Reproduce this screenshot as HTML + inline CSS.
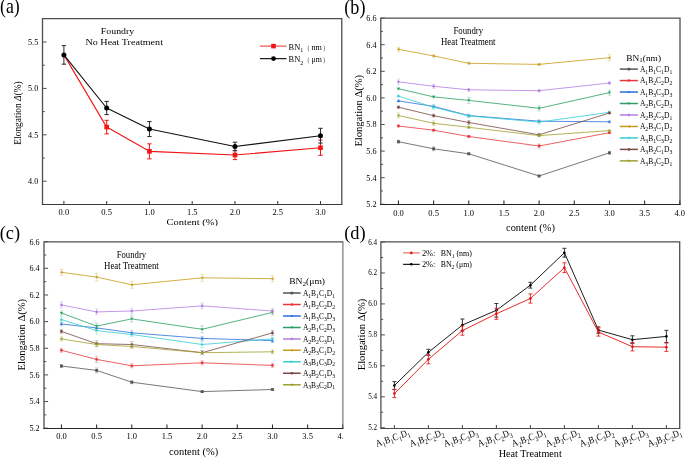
<!DOCTYPE html>
<html><head><meta charset="utf-8"><style>
html,body{margin:0;padding:0;background:#fff;}
svg{display:block;will-change:transform;}
text{font-family:"Liberation Serif", serif;}
</style></head><body>
<svg width="685" height="458" viewBox="0 0 685 458" font-family='"Liberation Serif", serif'>
<defs><clipPath id="clipA"><rect x="0" y="0" width="343.5" height="226"/></clipPath><clipPath id="clipB"><rect x="343.5" y="0" width="342" height="236"/></clipPath><clipPath id="clipC"><rect x="0" y="226" width="343.5" height="232"/></clipPath><clipPath id="clipD"><rect x="343.5" y="226" width="342" height="232"/></clipPath></defs>
<rect width="685" height="458" fill="#fff"/>
<g clip-path="url(#clipA)">
<line x1="63.9" y1="204.5" x2="63.9" y2="200.9" stroke="#3a3a3a" stroke-width="1.05" />
<text transform="translate(63.9,214.8)" font-size="8.2" text-anchor="middle" fill="#000" color="#000" textLength="10.6" lengthAdjust="spacingAndGlyphs" >0.0</text>
<line x1="106.66" y1="204.5" x2="106.66" y2="200.9" stroke="#3a3a3a" stroke-width="1.05" />
<text transform="translate(106.66,214.8)" font-size="8.2" text-anchor="middle" fill="#000" color="#000" textLength="10.6" lengthAdjust="spacingAndGlyphs" >0.5</text>
<line x1="149.43" y1="204.5" x2="149.43" y2="200.9" stroke="#3a3a3a" stroke-width="1.05" />
<text transform="translate(149.43,214.8)" font-size="8.2" text-anchor="middle" fill="#000" color="#000" textLength="10.6" lengthAdjust="spacingAndGlyphs" >1.0</text>
<line x1="192.2" y1="204.5" x2="192.2" y2="200.9" stroke="#3a3a3a" stroke-width="1.05" />
<text transform="translate(192.2,214.8)" font-size="8.2" text-anchor="middle" fill="#000" color="#000" textLength="10.6" lengthAdjust="spacingAndGlyphs" >1.5</text>
<line x1="234.96" y1="204.5" x2="234.96" y2="200.9" stroke="#3a3a3a" stroke-width="1.05" />
<text transform="translate(234.96,214.8)" font-size="8.2" text-anchor="middle" fill="#000" color="#000" textLength="10.6" lengthAdjust="spacingAndGlyphs" >2.0</text>
<line x1="277.72" y1="204.5" x2="277.72" y2="200.9" stroke="#3a3a3a" stroke-width="1.05" />
<text transform="translate(277.72,214.8)" font-size="8.2" text-anchor="middle" fill="#000" color="#000" textLength="10.6" lengthAdjust="spacingAndGlyphs" >2.5</text>
<line x1="320.49" y1="204.5" x2="320.49" y2="200.9" stroke="#3a3a3a" stroke-width="1.05" />
<text transform="translate(320.49,214.8)" font-size="8.2" text-anchor="middle" fill="#000" color="#000" textLength="10.6" lengthAdjust="spacingAndGlyphs" >3.0</text>
<line x1="42.6" y1="181.2" x2="46.6" y2="181.2" stroke="#4e4e4e" stroke-width="1" />
<text transform="translate(38.2,184)" font-size="8.2" text-anchor="end" fill="#000" color="#000" textLength="10.2" lengthAdjust="spacingAndGlyphs" >4.0</text>
<line x1="42.6" y1="134.8" x2="46.6" y2="134.8" stroke="#4e4e4e" stroke-width="1" />
<text transform="translate(38.2,137.6)" font-size="8.2" text-anchor="end" fill="#000" color="#000" textLength="10.2" lengthAdjust="spacingAndGlyphs" >4.5</text>
<line x1="42.6" y1="88.4" x2="46.6" y2="88.4" stroke="#4e4e4e" stroke-width="1" />
<text transform="translate(38.2,91.2)" font-size="8.2" text-anchor="end" fill="#000" color="#000" textLength="10.2" lengthAdjust="spacingAndGlyphs" >5.0</text>
<line x1="42.6" y1="42" x2="46.6" y2="42" stroke="#4e4e4e" stroke-width="1" />
<text transform="translate(38.2,44.8)" font-size="8.2" text-anchor="end" fill="#000" color="#000" textLength="10.2" lengthAdjust="spacingAndGlyphs" >5.5</text>
<line x1="42.6" y1="204.4" x2="44.8" y2="204.4" stroke="#4e4e4e" stroke-width="1" />
<line x1="42.6" y1="158" x2="44.8" y2="158" stroke="#4e4e4e" stroke-width="1" />
<line x1="42.6" y1="111.6" x2="44.8" y2="111.6" stroke="#4e4e4e" stroke-width="1" />
<line x1="42.6" y1="65.2" x2="44.8" y2="65.2" stroke="#4e4e4e" stroke-width="1" />
<path d="M42.5,204.2 V18.6 H341.8 V204.2" fill="none" stroke="#4e4e4e" stroke-width="1.3" stroke-linecap="square"/>
<line x1="41.9" y1="204.5" x2="342.4" y2="204.5" stroke="#3a3a3a" stroke-width="1.1"/>
<line x1="106.66" y1="120.3" x2="106.66" y2="133.9" stroke="#f21414" stroke-width="1.0" />
<line x1="104.46" y1="120.3" x2="108.86" y2="120.3" stroke="#f21414" stroke-width="1.0" />
<line x1="104.46" y1="133.9" x2="108.86" y2="133.9" stroke="#f21414" stroke-width="1.0" />
<line x1="149.43" y1="143.85" x2="149.43" y2="158.85" stroke="#f21414" stroke-width="1.0" />
<line x1="147.23" y1="143.85" x2="151.63" y2="143.85" stroke="#f21414" stroke-width="1.0" />
<line x1="147.23" y1="158.85" x2="151.63" y2="158.85" stroke="#f21414" stroke-width="1.0" />
<line x1="234.96" y1="150.4" x2="234.96" y2="159.6" stroke="#f21414" stroke-width="1.0" />
<line x1="232.76" y1="150.4" x2="237.16" y2="150.4" stroke="#f21414" stroke-width="1.0" />
<line x1="232.76" y1="159.6" x2="237.16" y2="159.6" stroke="#f21414" stroke-width="1.0" />
<line x1="320.49" y1="140.1" x2="320.49" y2="155.3" stroke="#f21414" stroke-width="1.0" />
<line x1="318.29" y1="140.1" x2="322.69" y2="140.1" stroke="#f21414" stroke-width="1.0" />
<line x1="318.29" y1="155.3" x2="322.69" y2="155.3" stroke="#f21414" stroke-width="1.0" />
<polyline points="63.9,54.9 106.66,127.1 149.43,151.35 234.96,155 320.49,147.7" fill="none" stroke="#f21414" stroke-width="1.1" stroke-linejoin="round" />
<rect x="104.36" y="124.8" width="4.6" height="4.6" fill="#f21414"/>
<rect x="147.13" y="149.05" width="4.6" height="4.6" fill="#f21414"/>
<rect x="232.66" y="152.7" width="4.6" height="4.6" fill="#f21414"/>
<rect x="318.19" y="145.4" width="4.6" height="4.6" fill="#f21414"/>
<line x1="63.9" y1="45.6" x2="63.9" y2="64.2" stroke="#2a2a2a" stroke-width="1.0" />
<line x1="61.7" y1="45.6" x2="66.1" y2="45.6" stroke="#2a2a2a" stroke-width="1.0" />
<line x1="61.7" y1="64.2" x2="66.1" y2="64.2" stroke="#2a2a2a" stroke-width="1.0" />
<line x1="106.66" y1="101.4" x2="106.66" y2="114.6" stroke="#2a2a2a" stroke-width="1.0" />
<line x1="104.46" y1="101.4" x2="108.86" y2="101.4" stroke="#2a2a2a" stroke-width="1.0" />
<line x1="104.46" y1="114.6" x2="108.86" y2="114.6" stroke="#2a2a2a" stroke-width="1.0" />
<line x1="149.43" y1="121.55" x2="149.43" y2="136.55" stroke="#2a2a2a" stroke-width="1.0" />
<line x1="147.23" y1="121.55" x2="151.63" y2="121.55" stroke="#2a2a2a" stroke-width="1.0" />
<line x1="147.23" y1="136.55" x2="151.63" y2="136.55" stroke="#2a2a2a" stroke-width="1.0" />
<line x1="234.96" y1="142.2" x2="234.96" y2="150.8" stroke="#2a2a2a" stroke-width="1.0" />
<line x1="232.76" y1="142.2" x2="237.16" y2="142.2" stroke="#2a2a2a" stroke-width="1.0" />
<line x1="232.76" y1="150.8" x2="237.16" y2="150.8" stroke="#2a2a2a" stroke-width="1.0" />
<line x1="320.49" y1="128.3" x2="320.49" y2="143.1" stroke="#2a2a2a" stroke-width="1.0" />
<line x1="318.29" y1="128.3" x2="322.69" y2="128.3" stroke="#2a2a2a" stroke-width="1.0" />
<line x1="318.29" y1="143.1" x2="322.69" y2="143.1" stroke="#2a2a2a" stroke-width="1.0" />
<polyline points="63.9,54.9 106.66,108 149.43,129.05 234.96,146.5 320.49,135.7" fill="none" stroke="#111" stroke-width="1.1" stroke-linejoin="round" />
<circle cx="63.9" cy="54.9" r="2.5" fill="#000"/>
<circle cx="106.66" cy="108" r="2.5" fill="#000"/>
<circle cx="149.43" cy="129.05" r="2.5" fill="#000"/>
<circle cx="234.96" cy="146.5" r="2.5" fill="#000"/>
<circle cx="320.49" cy="135.7" r="2.5" fill="#000"/>
<line x1="259.9" y1="46.1" x2="286.5" y2="46.1" stroke="#f05a5a" stroke-width="1.3" />
<rect x="271.2" y="43.8" width="4.6" height="4.6" fill="#f21414"/>
<line x1="259.9" y1="58.6" x2="286.5" y2="58.6" stroke="#222" stroke-width="1.3" />
<circle cx="273.5" cy="58.6" r="2.4" fill="#000"/>
<text transform="translate(288.6,49.9)" font-size="8.4" text-anchor="start" fill="#000" color="#000" >BN<tspan font-size="6.05" dy="2.52">1</tspan><tspan dy="-2.52">​</tspan></text>
<text transform="translate(288.6,62.4)" font-size="8.4" text-anchor="start" fill="#000" color="#000" >BN<tspan font-size="6.05" dy="2.52">2</tspan><tspan dy="-2.52">​</tspan></text>
<text transform="translate(307.4,49.5)" font-size="7" text-anchor="start" fill="#333" color="#333" textLength="1.9" lengthAdjust="spacingAndGlyphs" >(</text>
<text transform="translate(311.4,49.9)" font-size="8.2" text-anchor="start" fill="#000" color="#000" textLength="10.4" lengthAdjust="spacingAndGlyphs" >nm</text>
<text transform="translate(323.2,49.5)" font-size="7" text-anchor="start" fill="#333" color="#333" textLength="1.9" lengthAdjust="spacingAndGlyphs" >)</text>
<text transform="translate(307.4,62)" font-size="7" text-anchor="start" fill="#333" color="#333" textLength="1.9" lengthAdjust="spacingAndGlyphs" >(</text>
<text transform="translate(311.4,62.4)" font-size="8.2" text-anchor="start" fill="#000" color="#000" textLength="10.4" lengthAdjust="spacingAndGlyphs" >μm</text>
<text transform="translate(323.2,62)" font-size="7" text-anchor="start" fill="#333" color="#333" textLength="1.9" lengthAdjust="spacingAndGlyphs" >)</text>
<text transform="translate(117.5,34.2)" font-size="9.2" text-anchor="middle" fill="#000" color="#000" textLength="33.3" lengthAdjust="spacingAndGlyphs" >Foundry</text>
<text transform="translate(124.2,45.2)" font-size="9.2" text-anchor="middle" fill="#000" color="#000" textLength="77.5" lengthAdjust="spacingAndGlyphs" >No Heat Treatment</text>
<text transform="translate(192.3,225.2)" font-size="9.1" text-anchor="middle" fill="#000" color="#000" textLength="51.5" lengthAdjust="spacingAndGlyphs" >Content (%)</text>
<text transform="translate(21.2,113) rotate(-90)" font-size="9.6" text-anchor="middle" fill="#000" color="#000" textLength="63.4" lengthAdjust="spacingAndGlyphs" >Elongation <tspan font-style="italic">Δ</tspan>(%)</text>
</g>
<text transform="translate(0,13.4)" font-size="20.2" text-anchor="start" fill="#000" color="#000" textLength="19.8" lengthAdjust="spacingAndGlyphs" >(a)</text>
<g clip-path="url(#clipB)">
<line x1="398.45" y1="204.5" x2="398.45" y2="200.4" stroke="#222" stroke-width="1.05" />
<text transform="translate(398.45,216)" font-size="8.2" text-anchor="middle" fill="#000" color="#000" textLength="10.6" lengthAdjust="spacingAndGlyphs" >0.0</text>
<line x1="433.62" y1="204.5" x2="433.62" y2="200.4" stroke="#222" stroke-width="1.05" />
<text transform="translate(433.62,216)" font-size="8.2" text-anchor="middle" fill="#000" color="#000" textLength="10.6" lengthAdjust="spacingAndGlyphs" >0.5</text>
<line x1="468.78" y1="204.5" x2="468.78" y2="200.4" stroke="#222" stroke-width="1.05" />
<text transform="translate(468.78,216)" font-size="8.2" text-anchor="middle" fill="#000" color="#000" textLength="10.6" lengthAdjust="spacingAndGlyphs" >1.0</text>
<line x1="503.94" y1="204.5" x2="503.94" y2="200.4" stroke="#222" stroke-width="1.05" />
<text transform="translate(503.94,216)" font-size="8.2" text-anchor="middle" fill="#000" color="#000" textLength="10.6" lengthAdjust="spacingAndGlyphs" >1.5</text>
<line x1="539.11" y1="204.5" x2="539.11" y2="200.4" stroke="#222" stroke-width="1.05" />
<text transform="translate(539.11,216)" font-size="8.2" text-anchor="middle" fill="#000" color="#000" textLength="10.6" lengthAdjust="spacingAndGlyphs" >2.0</text>
<line x1="574.27" y1="204.5" x2="574.27" y2="200.4" stroke="#222" stroke-width="1.05" />
<text transform="translate(574.27,216)" font-size="8.2" text-anchor="middle" fill="#000" color="#000" textLength="10.6" lengthAdjust="spacingAndGlyphs" >2.5</text>
<line x1="609.44" y1="204.5" x2="609.44" y2="200.4" stroke="#222" stroke-width="1.05" />
<text transform="translate(609.44,216)" font-size="8.2" text-anchor="middle" fill="#000" color="#000" textLength="10.6" lengthAdjust="spacingAndGlyphs" >3.0</text>
<line x1="644.61" y1="204.5" x2="644.61" y2="200.4" stroke="#222" stroke-width="1.05" />
<text transform="translate(644.61,216)" font-size="8.2" text-anchor="middle" fill="#000" color="#000" textLength="10.6" lengthAdjust="spacingAndGlyphs" >3.5</text>
<line x1="679.77" y1="204.5" x2="679.77" y2="200.4" stroke="#222" stroke-width="1.05" />
<text transform="translate(679.77,216)" font-size="8.2" text-anchor="middle" fill="#000" color="#000" textLength="10.6" lengthAdjust="spacingAndGlyphs" >4.0</text>
<line x1="380.7" y1="204.3" x2="384.7" y2="204.3" stroke="#4e4e4e" stroke-width="1" />
<text transform="translate(376.5,207.1)" font-size="8.2" text-anchor="end" fill="#000" color="#000" textLength="10.2" lengthAdjust="spacingAndGlyphs" >5.2</text>
<line x1="380.7" y1="177.7" x2="384.7" y2="177.7" stroke="#4e4e4e" stroke-width="1" />
<text transform="translate(376.5,180.5)" font-size="8.2" text-anchor="end" fill="#000" color="#000" textLength="10.2" lengthAdjust="spacingAndGlyphs" >5.4</text>
<line x1="380.7" y1="151.1" x2="384.7" y2="151.1" stroke="#4e4e4e" stroke-width="1" />
<text transform="translate(376.5,153.9)" font-size="8.2" text-anchor="end" fill="#000" color="#000" textLength="10.2" lengthAdjust="spacingAndGlyphs" >5.6</text>
<line x1="380.7" y1="124.5" x2="384.7" y2="124.5" stroke="#4e4e4e" stroke-width="1" />
<text transform="translate(376.5,127.3)" font-size="8.2" text-anchor="end" fill="#000" color="#000" textLength="10.2" lengthAdjust="spacingAndGlyphs" >5.8</text>
<line x1="380.7" y1="97.9" x2="384.7" y2="97.9" stroke="#4e4e4e" stroke-width="1" />
<text transform="translate(376.5,100.7)" font-size="8.2" text-anchor="end" fill="#000" color="#000" textLength="10.2" lengthAdjust="spacingAndGlyphs" >6.0</text>
<line x1="380.7" y1="71.3" x2="384.7" y2="71.3" stroke="#4e4e4e" stroke-width="1" />
<text transform="translate(376.5,74.1)" font-size="8.2" text-anchor="end" fill="#000" color="#000" textLength="10.2" lengthAdjust="spacingAndGlyphs" >6.2</text>
<line x1="380.7" y1="44.7" x2="384.7" y2="44.7" stroke="#4e4e4e" stroke-width="1" />
<text transform="translate(376.5,47.5)" font-size="8.2" text-anchor="end" fill="#000" color="#000" textLength="10.2" lengthAdjust="spacingAndGlyphs" >6.4</text>
<line x1="380.7" y1="18.1" x2="384.7" y2="18.1" stroke="#4e4e4e" stroke-width="1" />
<text transform="translate(376.5,20.9)" font-size="8.2" text-anchor="end" fill="#000" color="#000" textLength="10.2" lengthAdjust="spacingAndGlyphs" >6.6</text>
<line x1="380.7" y1="191" x2="382.9" y2="191" stroke="#4e4e4e" stroke-width="1" />
<line x1="380.7" y1="164.4" x2="382.9" y2="164.4" stroke="#4e4e4e" stroke-width="1" />
<line x1="380.7" y1="137.8" x2="382.9" y2="137.8" stroke="#4e4e4e" stroke-width="1" />
<line x1="380.7" y1="111.2" x2="382.9" y2="111.2" stroke="#4e4e4e" stroke-width="1" />
<line x1="380.7" y1="84.6" x2="382.9" y2="84.6" stroke="#4e4e4e" stroke-width="1" />
<line x1="380.7" y1="58" x2="382.9" y2="58" stroke="#4e4e4e" stroke-width="1" />
<line x1="380.7" y1="31.4" x2="382.9" y2="31.4" stroke="#4e4e4e" stroke-width="1" />
<path d="M380.8,204.2 V18.1 H680 V204.2" fill="none" stroke="#4e4e4e" stroke-width="1.3" stroke-linecap="square"/>
<line x1="380.2" y1="204.5" x2="680.6" y2="204.5" stroke="#222" stroke-width="1.1"/>
<line x1="398.45" y1="140.2" x2="398.45" y2="143.2" stroke="#555555" stroke-width="0.5" stroke-opacity="0.6"/>
<line x1="396.65" y1="140.2" x2="400.25" y2="140.2" stroke="#555555" stroke-width="0.5" stroke-opacity="0.6"/>
<line x1="396.65" y1="143.2" x2="400.25" y2="143.2" stroke="#555555" stroke-width="0.5" stroke-opacity="0.6"/>
<line x1="433.62" y1="146.8" x2="433.62" y2="150.8" stroke="#555555" stroke-width="0.5" stroke-opacity="0.6"/>
<line x1="431.81" y1="146.8" x2="435.42" y2="146.8" stroke="#555555" stroke-width="0.5" stroke-opacity="0.6"/>
<line x1="431.81" y1="150.8" x2="435.42" y2="150.8" stroke="#555555" stroke-width="0.5" stroke-opacity="0.6"/>
<line x1="468.78" y1="152.8" x2="468.78" y2="154.8" stroke="#555555" stroke-width="0.5" stroke-opacity="0.6"/>
<line x1="466.98" y1="152.8" x2="470.58" y2="152.8" stroke="#555555" stroke-width="0.5" stroke-opacity="0.6"/>
<line x1="466.98" y1="154.8" x2="470.58" y2="154.8" stroke="#555555" stroke-width="0.5" stroke-opacity="0.6"/>
<line x1="539.11" y1="175" x2="539.11" y2="177" stroke="#555555" stroke-width="0.5" stroke-opacity="0.6"/>
<line x1="537.31" y1="175" x2="540.91" y2="175" stroke="#555555" stroke-width="0.5" stroke-opacity="0.6"/>
<line x1="537.31" y1="177" x2="540.91" y2="177" stroke="#555555" stroke-width="0.5" stroke-opacity="0.6"/>
<line x1="609.44" y1="151.3" x2="609.44" y2="154.3" stroke="#555555" stroke-width="0.5" stroke-opacity="0.6"/>
<line x1="607.64" y1="151.3" x2="611.24" y2="151.3" stroke="#555555" stroke-width="0.5" stroke-opacity="0.6"/>
<line x1="607.64" y1="154.3" x2="611.24" y2="154.3" stroke="#555555" stroke-width="0.5" stroke-opacity="0.6"/>
<polyline points="398.45,141.7 433.62,148.8 468.78,153.8 539.11,176 609.44,152.8" fill="none" stroke="#555555" stroke-width="0.8" stroke-linejoin="round" />
<rect x="397.05" y="140.3" width="2.8" height="2.8" fill="#555555"/>
<rect x="432.22" y="147.4" width="2.8" height="2.8" fill="#555555"/>
<rect x="467.38" y="152.4" width="2.8" height="2.8" fill="#555555"/>
<rect x="537.71" y="174.6" width="2.8" height="2.8" fill="#555555"/>
<rect x="608.04" y="151.4" width="2.8" height="2.8" fill="#555555"/>
<line x1="398.45" y1="125" x2="398.45" y2="127" stroke="#e8363a" stroke-width="0.5" stroke-opacity="0.6"/>
<line x1="396.65" y1="125" x2="400.25" y2="125" stroke="#e8363a" stroke-width="0.5" stroke-opacity="0.6"/>
<line x1="396.65" y1="127" x2="400.25" y2="127" stroke="#e8363a" stroke-width="0.5" stroke-opacity="0.6"/>
<line x1="433.62" y1="129.2" x2="433.62" y2="131.2" stroke="#e8363a" stroke-width="0.5" stroke-opacity="0.6"/>
<line x1="431.81" y1="129.2" x2="435.42" y2="129.2" stroke="#e8363a" stroke-width="0.5" stroke-opacity="0.6"/>
<line x1="431.81" y1="131.2" x2="435.42" y2="131.2" stroke="#e8363a" stroke-width="0.5" stroke-opacity="0.6"/>
<line x1="468.78" y1="135.5" x2="468.78" y2="137.5" stroke="#e8363a" stroke-width="0.5" stroke-opacity="0.6"/>
<line x1="466.98" y1="135.5" x2="470.58" y2="135.5" stroke="#e8363a" stroke-width="0.5" stroke-opacity="0.6"/>
<line x1="466.98" y1="137.5" x2="470.58" y2="137.5" stroke="#e8363a" stroke-width="0.5" stroke-opacity="0.6"/>
<line x1="539.11" y1="144" x2="539.11" y2="148" stroke="#e8363a" stroke-width="0.5" stroke-opacity="0.6"/>
<line x1="537.31" y1="144" x2="540.91" y2="144" stroke="#e8363a" stroke-width="0.5" stroke-opacity="0.6"/>
<line x1="537.31" y1="148" x2="540.91" y2="148" stroke="#e8363a" stroke-width="0.5" stroke-opacity="0.6"/>
<line x1="609.44" y1="131.7" x2="609.44" y2="133.7" stroke="#e8363a" stroke-width="0.5" stroke-opacity="0.6"/>
<line x1="607.64" y1="131.7" x2="611.24" y2="131.7" stroke="#e8363a" stroke-width="0.5" stroke-opacity="0.6"/>
<line x1="607.64" y1="133.7" x2="611.24" y2="133.7" stroke="#e8363a" stroke-width="0.5" stroke-opacity="0.6"/>
<polyline points="398.45,126 433.62,130.2 468.78,136.5 539.11,146 609.44,132.7" fill="none" stroke="#e8363a" stroke-width="0.8" stroke-linejoin="round" />
<circle cx="398.45" cy="126" r="1.4" fill="#e8363a"/>
<circle cx="433.62" cy="130.2" r="1.4" fill="#e8363a"/>
<circle cx="468.78" cy="136.5" r="1.4" fill="#e8363a"/>
<circle cx="539.11" cy="146" r="1.4" fill="#e8363a"/>
<circle cx="609.44" cy="132.7" r="1.4" fill="#e8363a"/>
<line x1="398.45" y1="99.9" x2="398.45" y2="101.9" stroke="#2a6fd8" stroke-width="0.5" stroke-opacity="0.6"/>
<line x1="396.65" y1="99.9" x2="400.25" y2="99.9" stroke="#2a6fd8" stroke-width="0.5" stroke-opacity="0.6"/>
<line x1="396.65" y1="101.9" x2="400.25" y2="101.9" stroke="#2a6fd8" stroke-width="0.5" stroke-opacity="0.6"/>
<line x1="433.62" y1="104.9" x2="433.62" y2="107.9" stroke="#2a6fd8" stroke-width="0.5" stroke-opacity="0.6"/>
<line x1="431.81" y1="104.9" x2="435.42" y2="104.9" stroke="#2a6fd8" stroke-width="0.5" stroke-opacity="0.6"/>
<line x1="431.81" y1="107.9" x2="435.42" y2="107.9" stroke="#2a6fd8" stroke-width="0.5" stroke-opacity="0.6"/>
<line x1="468.78" y1="114.1" x2="468.78" y2="117.1" stroke="#2a6fd8" stroke-width="0.5" stroke-opacity="0.6"/>
<line x1="466.98" y1="114.1" x2="470.58" y2="114.1" stroke="#2a6fd8" stroke-width="0.5" stroke-opacity="0.6"/>
<line x1="466.98" y1="117.1" x2="470.58" y2="117.1" stroke="#2a6fd8" stroke-width="0.5" stroke-opacity="0.6"/>
<line x1="539.11" y1="120.2" x2="539.11" y2="122.2" stroke="#2a6fd8" stroke-width="0.5" stroke-opacity="0.6"/>
<line x1="537.31" y1="120.2" x2="540.91" y2="120.2" stroke="#2a6fd8" stroke-width="0.5" stroke-opacity="0.6"/>
<line x1="537.31" y1="122.2" x2="540.91" y2="122.2" stroke="#2a6fd8" stroke-width="0.5" stroke-opacity="0.6"/>
<line x1="609.44" y1="120.8" x2="609.44" y2="122.8" stroke="#2a6fd8" stroke-width="0.5" stroke-opacity="0.6"/>
<line x1="607.64" y1="120.8" x2="611.24" y2="120.8" stroke="#2a6fd8" stroke-width="0.5" stroke-opacity="0.6"/>
<line x1="607.64" y1="122.8" x2="611.24" y2="122.8" stroke="#2a6fd8" stroke-width="0.5" stroke-opacity="0.6"/>
<polyline points="398.45,100.9 433.62,106.4 468.78,115.6 539.11,121.2 609.44,121.8" fill="none" stroke="#2a6fd8" stroke-width="0.8" stroke-linejoin="round" />
<polygon points="398.45,99.29 399.99,101.95 396.91,101.95" fill="#2a6fd8"/>
<polygon points="433.62,104.79 435.16,107.45 432.07,107.45" fill="#2a6fd8"/>
<polygon points="468.78,113.99 470.32,116.65 467.24,116.65" fill="#2a6fd8"/>
<polygon points="539.11,119.59 540.65,122.25 537.57,122.25" fill="#2a6fd8"/>
<polygon points="609.44,120.19 610.98,122.85 607.9,122.85" fill="#2a6fd8"/>
<line x1="398.45" y1="87.7" x2="398.45" y2="89.7" stroke="#2aa060" stroke-width="0.5" stroke-opacity="0.6"/>
<line x1="396.65" y1="87.7" x2="400.25" y2="87.7" stroke="#2aa060" stroke-width="0.5" stroke-opacity="0.6"/>
<line x1="396.65" y1="89.7" x2="400.25" y2="89.7" stroke="#2aa060" stroke-width="0.5" stroke-opacity="0.6"/>
<line x1="433.62" y1="95.9" x2="433.62" y2="97.9" stroke="#2aa060" stroke-width="0.5" stroke-opacity="0.6"/>
<line x1="431.81" y1="95.9" x2="435.42" y2="95.9" stroke="#2aa060" stroke-width="0.5" stroke-opacity="0.6"/>
<line x1="431.81" y1="97.9" x2="435.42" y2="97.9" stroke="#2aa060" stroke-width="0.5" stroke-opacity="0.6"/>
<line x1="468.78" y1="97.4" x2="468.78" y2="103.4" stroke="#2aa060" stroke-width="0.5" stroke-opacity="0.6"/>
<line x1="466.98" y1="97.4" x2="470.58" y2="97.4" stroke="#2aa060" stroke-width="0.5" stroke-opacity="0.6"/>
<line x1="466.98" y1="103.4" x2="470.58" y2="103.4" stroke="#2aa060" stroke-width="0.5" stroke-opacity="0.6"/>
<line x1="539.11" y1="105.8" x2="539.11" y2="110.8" stroke="#2aa060" stroke-width="0.5" stroke-opacity="0.6"/>
<line x1="537.31" y1="105.8" x2="540.91" y2="105.8" stroke="#2aa060" stroke-width="0.5" stroke-opacity="0.6"/>
<line x1="537.31" y1="110.8" x2="540.91" y2="110.8" stroke="#2aa060" stroke-width="0.5" stroke-opacity="0.6"/>
<line x1="609.44" y1="90.1" x2="609.44" y2="95.1" stroke="#2aa060" stroke-width="0.5" stroke-opacity="0.6"/>
<line x1="607.64" y1="90.1" x2="611.24" y2="90.1" stroke="#2aa060" stroke-width="0.5" stroke-opacity="0.6"/>
<line x1="607.64" y1="95.1" x2="611.24" y2="95.1" stroke="#2aa060" stroke-width="0.5" stroke-opacity="0.6"/>
<polyline points="398.45,88.7 433.62,96.9 468.78,100.4 539.11,108.3 609.44,92.6" fill="none" stroke="#2aa060" stroke-width="0.8" stroke-linejoin="round" />
<polygon points="398.45,90.31 399.99,87.65 396.91,87.65" fill="#2aa060"/>
<polygon points="433.62,98.51 435.16,95.85 432.07,95.85" fill="#2aa060"/>
<polygon points="468.78,102.01 470.32,99.35 467.24,99.35" fill="#2aa060"/>
<polygon points="539.11,109.91 540.65,107.25 537.57,107.25" fill="#2aa060"/>
<polygon points="609.44,94.21 610.98,91.55 607.9,91.55" fill="#2aa060"/>
<line x1="398.45" y1="78.8" x2="398.45" y2="84.8" stroke="#b47ce0" stroke-width="0.5" stroke-opacity="0.6"/>
<line x1="396.65" y1="78.8" x2="400.25" y2="78.8" stroke="#b47ce0" stroke-width="0.5" stroke-opacity="0.6"/>
<line x1="396.65" y1="84.8" x2="400.25" y2="84.8" stroke="#b47ce0" stroke-width="0.5" stroke-opacity="0.6"/>
<line x1="433.62" y1="84.3" x2="433.62" y2="88.3" stroke="#b47ce0" stroke-width="0.5" stroke-opacity="0.6"/>
<line x1="431.81" y1="84.3" x2="435.42" y2="84.3" stroke="#b47ce0" stroke-width="0.5" stroke-opacity="0.6"/>
<line x1="431.81" y1="88.3" x2="435.42" y2="88.3" stroke="#b47ce0" stroke-width="0.5" stroke-opacity="0.6"/>
<line x1="468.78" y1="88.3" x2="468.78" y2="91.3" stroke="#b47ce0" stroke-width="0.5" stroke-opacity="0.6"/>
<line x1="466.98" y1="88.3" x2="470.58" y2="88.3" stroke="#b47ce0" stroke-width="0.5" stroke-opacity="0.6"/>
<line x1="466.98" y1="91.3" x2="470.58" y2="91.3" stroke="#b47ce0" stroke-width="0.5" stroke-opacity="0.6"/>
<line x1="539.11" y1="89.7" x2="539.11" y2="91.7" stroke="#b47ce0" stroke-width="0.5" stroke-opacity="0.6"/>
<line x1="537.31" y1="89.7" x2="540.91" y2="89.7" stroke="#b47ce0" stroke-width="0.5" stroke-opacity="0.6"/>
<line x1="537.31" y1="91.7" x2="540.91" y2="91.7" stroke="#b47ce0" stroke-width="0.5" stroke-opacity="0.6"/>
<line x1="609.44" y1="82" x2="609.44" y2="84" stroke="#b47ce0" stroke-width="0.5" stroke-opacity="0.6"/>
<line x1="607.64" y1="82" x2="611.24" y2="82" stroke="#b47ce0" stroke-width="0.5" stroke-opacity="0.6"/>
<line x1="607.64" y1="84" x2="611.24" y2="84" stroke="#b47ce0" stroke-width="0.5" stroke-opacity="0.6"/>
<polyline points="398.45,81.8 433.62,86.3 468.78,89.8 539.11,90.7 609.44,83" fill="none" stroke="#b47ce0" stroke-width="0.8" stroke-linejoin="round" />
<polygon points="398.45,79.98 399.99,81.8 398.45,83.62 396.91,81.8" fill="#b47ce0"/>
<polygon points="433.62,84.48 435.16,86.3 433.62,88.12 432.07,86.3" fill="#b47ce0"/>
<polygon points="468.78,87.98 470.32,89.8 468.78,91.62 467.24,89.8" fill="#b47ce0"/>
<polygon points="539.11,88.88 540.65,90.7 539.11,92.52 537.57,90.7" fill="#b47ce0"/>
<polygon points="609.44,81.18 610.98,83 609.44,84.82 607.9,83" fill="#b47ce0"/>
<line x1="398.45" y1="47.3" x2="398.45" y2="51.3" stroke="#c99a18" stroke-width="0.5" stroke-opacity="0.6"/>
<line x1="396.65" y1="47.3" x2="400.25" y2="47.3" stroke="#c99a18" stroke-width="0.5" stroke-opacity="0.6"/>
<line x1="396.65" y1="51.3" x2="400.25" y2="51.3" stroke="#c99a18" stroke-width="0.5" stroke-opacity="0.6"/>
<line x1="433.62" y1="54.9" x2="433.62" y2="56.9" stroke="#c99a18" stroke-width="0.5" stroke-opacity="0.6"/>
<line x1="431.81" y1="54.9" x2="435.42" y2="54.9" stroke="#c99a18" stroke-width="0.5" stroke-opacity="0.6"/>
<line x1="431.81" y1="56.9" x2="435.42" y2="56.9" stroke="#c99a18" stroke-width="0.5" stroke-opacity="0.6"/>
<line x1="468.78" y1="62.3" x2="468.78" y2="64.3" stroke="#c99a18" stroke-width="0.5" stroke-opacity="0.6"/>
<line x1="466.98" y1="62.3" x2="470.58" y2="62.3" stroke="#c99a18" stroke-width="0.5" stroke-opacity="0.6"/>
<line x1="466.98" y1="64.3" x2="470.58" y2="64.3" stroke="#c99a18" stroke-width="0.5" stroke-opacity="0.6"/>
<line x1="539.11" y1="63.4" x2="539.11" y2="65.4" stroke="#c99a18" stroke-width="0.5" stroke-opacity="0.6"/>
<line x1="537.31" y1="63.4" x2="540.91" y2="63.4" stroke="#c99a18" stroke-width="0.5" stroke-opacity="0.6"/>
<line x1="537.31" y1="65.4" x2="540.91" y2="65.4" stroke="#c99a18" stroke-width="0.5" stroke-opacity="0.6"/>
<line x1="609.44" y1="54.7" x2="609.44" y2="60.7" stroke="#c99a18" stroke-width="0.5" stroke-opacity="0.6"/>
<line x1="607.64" y1="54.7" x2="611.24" y2="54.7" stroke="#c99a18" stroke-width="0.5" stroke-opacity="0.6"/>
<line x1="607.64" y1="60.7" x2="611.24" y2="60.7" stroke="#c99a18" stroke-width="0.5" stroke-opacity="0.6"/>
<polyline points="398.45,49.3 433.62,55.9 468.78,63.3 539.11,64.4 609.44,57.7" fill="none" stroke="#c99a18" stroke-width="0.8" stroke-linejoin="round" />
<polygon points="396.84,49.3 399.5,47.76 399.5,50.84" fill="#c99a18"/>
<polygon points="432,55.9 434.67,54.36 434.67,57.44" fill="#c99a18"/>
<polygon points="467.17,63.3 469.83,61.76 469.83,64.84" fill="#c99a18"/>
<polygon points="537.5,64.4 540.16,62.86 540.16,65.94" fill="#c99a18"/>
<polygon points="607.83,57.7 610.49,56.16 610.49,59.24" fill="#c99a18"/>
<line x1="398.45" y1="95.1" x2="398.45" y2="97.1" stroke="#35cdd0" stroke-width="0.5" stroke-opacity="0.6"/>
<line x1="396.65" y1="95.1" x2="400.25" y2="95.1" stroke="#35cdd0" stroke-width="0.5" stroke-opacity="0.6"/>
<line x1="396.65" y1="97.1" x2="400.25" y2="97.1" stroke="#35cdd0" stroke-width="0.5" stroke-opacity="0.6"/>
<line x1="433.62" y1="105.3" x2="433.62" y2="109.3" stroke="#35cdd0" stroke-width="0.5" stroke-opacity="0.6"/>
<line x1="431.81" y1="105.3" x2="435.42" y2="105.3" stroke="#35cdd0" stroke-width="0.5" stroke-opacity="0.6"/>
<line x1="431.81" y1="109.3" x2="435.42" y2="109.3" stroke="#35cdd0" stroke-width="0.5" stroke-opacity="0.6"/>
<line x1="468.78" y1="114.9" x2="468.78" y2="116.9" stroke="#35cdd0" stroke-width="0.5" stroke-opacity="0.6"/>
<line x1="466.98" y1="114.9" x2="470.58" y2="114.9" stroke="#35cdd0" stroke-width="0.5" stroke-opacity="0.6"/>
<line x1="466.98" y1="116.9" x2="470.58" y2="116.9" stroke="#35cdd0" stroke-width="0.5" stroke-opacity="0.6"/>
<line x1="539.11" y1="120.1" x2="539.11" y2="124.1" stroke="#35cdd0" stroke-width="0.5" stroke-opacity="0.6"/>
<line x1="537.31" y1="120.1" x2="540.91" y2="120.1" stroke="#35cdd0" stroke-width="0.5" stroke-opacity="0.6"/>
<line x1="537.31" y1="124.1" x2="540.91" y2="124.1" stroke="#35cdd0" stroke-width="0.5" stroke-opacity="0.6"/>
<line x1="609.44" y1="111.3" x2="609.44" y2="113.3" stroke="#35cdd0" stroke-width="0.5" stroke-opacity="0.6"/>
<line x1="607.64" y1="111.3" x2="611.24" y2="111.3" stroke="#35cdd0" stroke-width="0.5" stroke-opacity="0.6"/>
<line x1="607.64" y1="113.3" x2="611.24" y2="113.3" stroke="#35cdd0" stroke-width="0.5" stroke-opacity="0.6"/>
<polyline points="398.45,96.1 433.62,107.3 468.78,115.9 539.11,122.1 609.44,112.3" fill="none" stroke="#35cdd0" stroke-width="0.8" stroke-linejoin="round" />
<polygon points="400.06,96.1 397.4,94.56 397.4,97.64" fill="#35cdd0"/>
<polygon points="435.23,107.3 432.56,105.76 432.56,108.84" fill="#35cdd0"/>
<polygon points="470.39,115.9 467.73,114.36 467.73,117.44" fill="#35cdd0"/>
<polygon points="540.72,122.1 538.06,120.56 538.06,123.64" fill="#35cdd0"/>
<polygon points="611.05,112.3 608.39,110.76 608.39,113.84" fill="#35cdd0"/>
<line x1="398.45" y1="106.2" x2="398.45" y2="108.2" stroke="#7a4a44" stroke-width="0.5" stroke-opacity="0.6"/>
<line x1="396.65" y1="106.2" x2="400.25" y2="106.2" stroke="#7a4a44" stroke-width="0.5" stroke-opacity="0.6"/>
<line x1="396.65" y1="108.2" x2="400.25" y2="108.2" stroke="#7a4a44" stroke-width="0.5" stroke-opacity="0.6"/>
<line x1="433.62" y1="114.2" x2="433.62" y2="117.2" stroke="#7a4a44" stroke-width="0.5" stroke-opacity="0.6"/>
<line x1="431.81" y1="114.2" x2="435.42" y2="114.2" stroke="#7a4a44" stroke-width="0.5" stroke-opacity="0.6"/>
<line x1="431.81" y1="117.2" x2="435.42" y2="117.2" stroke="#7a4a44" stroke-width="0.5" stroke-opacity="0.6"/>
<line x1="468.78" y1="120.5" x2="468.78" y2="124.5" stroke="#7a4a44" stroke-width="0.5" stroke-opacity="0.6"/>
<line x1="466.98" y1="120.5" x2="470.58" y2="120.5" stroke="#7a4a44" stroke-width="0.5" stroke-opacity="0.6"/>
<line x1="466.98" y1="124.5" x2="470.58" y2="124.5" stroke="#7a4a44" stroke-width="0.5" stroke-opacity="0.6"/>
<line x1="539.11" y1="133.3" x2="539.11" y2="136.3" stroke="#7a4a44" stroke-width="0.5" stroke-opacity="0.6"/>
<line x1="537.31" y1="133.3" x2="540.91" y2="133.3" stroke="#7a4a44" stroke-width="0.5" stroke-opacity="0.6"/>
<line x1="537.31" y1="136.3" x2="540.91" y2="136.3" stroke="#7a4a44" stroke-width="0.5" stroke-opacity="0.6"/>
<line x1="609.44" y1="112" x2="609.44" y2="114" stroke="#7a4a44" stroke-width="0.5" stroke-opacity="0.6"/>
<line x1="607.64" y1="112" x2="611.24" y2="112" stroke="#7a4a44" stroke-width="0.5" stroke-opacity="0.6"/>
<line x1="607.64" y1="114" x2="611.24" y2="114" stroke="#7a4a44" stroke-width="0.5" stroke-opacity="0.6"/>
<polyline points="398.45,107.2 433.62,115.7 468.78,122.5 539.11,134.8 609.44,113" fill="none" stroke="#7a4a44" stroke-width="0.8" stroke-linejoin="round" />
<polygon points="399.99,107.2 399.22,108.53 397.68,108.53 396.91,107.2 397.68,105.87 399.22,105.87" fill="#7a4a44"/>
<polygon points="435.16,115.7 434.38,117.03 432.85,117.03 432.07,115.7 432.85,114.37 434.38,114.37" fill="#7a4a44"/>
<polygon points="470.32,122.5 469.55,123.83 468.01,123.83 467.24,122.5 468.01,121.17 469.55,121.17" fill="#7a4a44"/>
<polygon points="540.65,134.8 539.88,136.13 538.34,136.13 537.57,134.8 538.34,133.47 539.88,133.47" fill="#7a4a44"/>
<polygon points="610.98,113 610.21,114.33 608.67,114.33 607.9,113 608.67,111.67 610.21,111.67" fill="#7a4a44"/>
<line x1="398.45" y1="113" x2="398.45" y2="118" stroke="#a0a030" stroke-width="0.5" stroke-opacity="0.6"/>
<line x1="396.65" y1="113" x2="400.25" y2="113" stroke="#a0a030" stroke-width="0.5" stroke-opacity="0.6"/>
<line x1="396.65" y1="118" x2="400.25" y2="118" stroke="#a0a030" stroke-width="0.5" stroke-opacity="0.6"/>
<line x1="433.62" y1="120.8" x2="433.62" y2="125.8" stroke="#a0a030" stroke-width="0.5" stroke-opacity="0.6"/>
<line x1="431.81" y1="120.8" x2="435.42" y2="120.8" stroke="#a0a030" stroke-width="0.5" stroke-opacity="0.6"/>
<line x1="431.81" y1="125.8" x2="435.42" y2="125.8" stroke="#a0a030" stroke-width="0.5" stroke-opacity="0.6"/>
<line x1="468.78" y1="126.3" x2="468.78" y2="128.3" stroke="#a0a030" stroke-width="0.5" stroke-opacity="0.6"/>
<line x1="466.98" y1="126.3" x2="470.58" y2="126.3" stroke="#a0a030" stroke-width="0.5" stroke-opacity="0.6"/>
<line x1="466.98" y1="128.3" x2="470.58" y2="128.3" stroke="#a0a030" stroke-width="0.5" stroke-opacity="0.6"/>
<line x1="539.11" y1="134.6" x2="539.11" y2="136.6" stroke="#a0a030" stroke-width="0.5" stroke-opacity="0.6"/>
<line x1="537.31" y1="134.6" x2="540.91" y2="134.6" stroke="#a0a030" stroke-width="0.5" stroke-opacity="0.6"/>
<line x1="537.31" y1="136.6" x2="540.91" y2="136.6" stroke="#a0a030" stroke-width="0.5" stroke-opacity="0.6"/>
<line x1="609.44" y1="129.6" x2="609.44" y2="131.6" stroke="#a0a030" stroke-width="0.5" stroke-opacity="0.6"/>
<line x1="607.64" y1="129.6" x2="611.24" y2="129.6" stroke="#a0a030" stroke-width="0.5" stroke-opacity="0.6"/>
<line x1="607.64" y1="131.6" x2="611.24" y2="131.6" stroke="#a0a030" stroke-width="0.5" stroke-opacity="0.6"/>
<polyline points="398.45,115.5 433.62,123.3 468.78,127.3 539.11,135.6 609.44,130.6" fill="none" stroke="#a0a030" stroke-width="0.8" stroke-linejoin="round" />
<polygon points="398.45,113.54 398.94,114.82 400.31,114.89 399.25,115.76 399.6,117.09 398.45,116.34 397.3,117.09 397.65,115.76 396.59,114.89 397.96,114.82" fill="#a0a030"/>
<polygon points="433.62,121.34 434.11,122.62 435.48,122.69 434.41,123.56 434.77,124.89 433.62,124.14 432.46,124.89 432.82,123.56 431.75,122.69 433.12,122.62" fill="#a0a030"/>
<polygon points="468.78,125.34 469.27,126.62 470.64,126.69 469.58,127.56 469.93,128.89 468.78,128.14 467.63,128.89 467.98,127.56 466.92,126.69 468.29,126.62" fill="#a0a030"/>
<polygon points="539.11,133.64 539.6,134.92 540.97,134.99 539.91,135.86 540.26,137.19 539.11,136.44 537.96,137.19 538.31,135.86 537.25,134.99 538.62,134.92" fill="#a0a030"/>
<polygon points="609.44,128.64 609.93,129.92 611.3,129.99 610.24,130.86 610.59,132.19 609.44,131.44 608.29,132.19 608.64,130.86 607.58,129.99 608.95,129.92" fill="#a0a030"/>
<text transform="translate(626.3,60.5)" font-size="9" text-anchor="start" fill="#000" color="#000" textLength="34.7" lengthAdjust="spacingAndGlyphs" >BN<tspan font-size="6.84" dy="1.98">1</tspan><tspan dy="-1.98">​</tspan>(nm)</text>
<line x1="619.8" y1="69.1" x2="637.9" y2="69.1" stroke="#555555" stroke-width="1.5" />
<rect x="627.6" y="67.8" width="2.6" height="2.6" fill="#555555"/>
<text transform="translate(639.9,72)" font-size="8" text-anchor="start" fill="#000" color="#000" textLength="32.4" lengthAdjust="spacingAndGlyphs" >A<tspan font-size="6.08" dy="1.76">1</tspan><tspan dy="-1.76">​</tspan>B<tspan font-size="6.08" dy="1.76">1</tspan><tspan dy="-1.76">​</tspan>C<tspan font-size="6.08" dy="1.76">1</tspan><tspan dy="-1.76">​</tspan>D<tspan font-size="6.08" dy="1.76">1</tspan><tspan dy="-1.76">​</tspan></text>
<line x1="619.8" y1="80.57" x2="637.9" y2="80.57" stroke="#e8363a" stroke-width="1.5" />
<circle cx="628.9" cy="80.57" r="1.3" fill="#e8363a"/>
<text transform="translate(639.9,83.47)" font-size="8" text-anchor="start" fill="#000" color="#000" textLength="32.4" lengthAdjust="spacingAndGlyphs" >A<tspan font-size="6.08" dy="1.76">1</tspan><tspan dy="-1.76">​</tspan>B<tspan font-size="6.08" dy="1.76">2</tspan><tspan dy="-1.76">​</tspan>C<tspan font-size="6.08" dy="1.76">2</tspan><tspan dy="-1.76">​</tspan>D<tspan font-size="6.08" dy="1.76">2</tspan><tspan dy="-1.76">​</tspan></text>
<line x1="619.8" y1="92.04" x2="637.9" y2="92.04" stroke="#2a6fd8" stroke-width="1.5" />
<polygon points="628.9,90.54 630.33,93.01 627.47,93.01" fill="#2a6fd8"/>
<text transform="translate(639.9,94.94)" font-size="8" text-anchor="start" fill="#000" color="#000" textLength="32.4" lengthAdjust="spacingAndGlyphs" >A<tspan font-size="6.08" dy="1.76">1</tspan><tspan dy="-1.76">​</tspan>B<tspan font-size="6.08" dy="1.76">3</tspan><tspan dy="-1.76">​</tspan>C<tspan font-size="6.08" dy="1.76">3</tspan><tspan dy="-1.76">​</tspan>D<tspan font-size="6.08" dy="1.76">3</tspan><tspan dy="-1.76">​</tspan></text>
<line x1="619.8" y1="103.51" x2="637.9" y2="103.51" stroke="#2aa060" stroke-width="1.5" />
<polygon points="628.9,105 630.33,102.53 627.47,102.53" fill="#2aa060"/>
<text transform="translate(639.9,106.41)" font-size="8" text-anchor="start" fill="#000" color="#000" textLength="32.4" lengthAdjust="spacingAndGlyphs" >A<tspan font-size="6.08" dy="1.76">2</tspan><tspan dy="-1.76">​</tspan>B<tspan font-size="6.08" dy="1.76">1</tspan><tspan dy="-1.76">​</tspan>C<tspan font-size="6.08" dy="1.76">2</tspan><tspan dy="-1.76">​</tspan>D<tspan font-size="6.08" dy="1.76">3</tspan><tspan dy="-1.76">​</tspan></text>
<line x1="619.8" y1="114.98" x2="637.9" y2="114.98" stroke="#b47ce0" stroke-width="1.5" />
<polygon points="628.9,113.29 630.33,114.98 628.9,116.67 627.47,114.98" fill="#b47ce0"/>
<text transform="translate(639.9,117.88)" font-size="8" text-anchor="start" fill="#000" color="#000" textLength="32.4" lengthAdjust="spacingAndGlyphs" >A<tspan font-size="6.08" dy="1.76">2</tspan><tspan dy="-1.76">​</tspan>B<tspan font-size="6.08" dy="1.76">2</tspan><tspan dy="-1.76">​</tspan>C<tspan font-size="6.08" dy="1.76">3</tspan><tspan dy="-1.76">​</tspan>D<tspan font-size="6.08" dy="1.76">1</tspan><tspan dy="-1.76">​</tspan></text>
<line x1="619.8" y1="126.45" x2="637.9" y2="126.45" stroke="#c99a18" stroke-width="1.5" />
<polygon points="627.4,126.45 629.88,125.02 629.88,127.88" fill="#c99a18"/>
<text transform="translate(639.9,129.35)" font-size="8" text-anchor="start" fill="#000" color="#000" textLength="32.4" lengthAdjust="spacingAndGlyphs" >A<tspan font-size="6.08" dy="1.76">2</tspan><tspan dy="-1.76">​</tspan>B<tspan font-size="6.08" dy="1.76">3</tspan><tspan dy="-1.76">​</tspan>C<tspan font-size="6.08" dy="1.76">1</tspan><tspan dy="-1.76">​</tspan>D<tspan font-size="6.08" dy="1.76">2</tspan><tspan dy="-1.76">​</tspan></text>
<line x1="619.8" y1="137.92" x2="637.9" y2="137.92" stroke="#35cdd0" stroke-width="1.5" />
<polygon points="630.39,137.92 627.92,136.49 627.92,139.35" fill="#35cdd0"/>
<text transform="translate(639.9,140.82)" font-size="8" text-anchor="start" fill="#000" color="#000" textLength="32.4" lengthAdjust="spacingAndGlyphs" >A<tspan font-size="6.08" dy="1.76">3</tspan><tspan dy="-1.76">​</tspan>B<tspan font-size="6.08" dy="1.76">1</tspan><tspan dy="-1.76">​</tspan>C<tspan font-size="6.08" dy="1.76">3</tspan><tspan dy="-1.76">​</tspan>D<tspan font-size="6.08" dy="1.76">2</tspan><tspan dy="-1.76">​</tspan></text>
<line x1="619.8" y1="149.39" x2="637.9" y2="149.39" stroke="#7a4a44" stroke-width="1.5" />
<polygon points="630.33,149.39 629.62,150.63 628.18,150.63 627.47,149.39 628.18,148.15 629.62,148.15" fill="#7a4a44"/>
<text transform="translate(639.9,152.29)" font-size="8" text-anchor="start" fill="#000" color="#000" textLength="32.4" lengthAdjust="spacingAndGlyphs" >A<tspan font-size="6.08" dy="1.76">3</tspan><tspan dy="-1.76">​</tspan>B<tspan font-size="6.08" dy="1.76">2</tspan><tspan dy="-1.76">​</tspan>C<tspan font-size="6.08" dy="1.76">1</tspan><tspan dy="-1.76">​</tspan>D<tspan font-size="6.08" dy="1.76">3</tspan><tspan dy="-1.76">​</tspan></text>
<line x1="619.8" y1="160.86" x2="637.9" y2="160.86" stroke="#a0a030" stroke-width="1.5" />
<polygon points="628.9,159.04 629.36,160.23 630.63,160.3 629.64,161.1 629.97,162.33 628.9,161.64 627.83,162.33 628.16,161.1 627.17,160.3 628.44,160.23" fill="#a0a030"/>
<text transform="translate(639.9,163.76)" font-size="8" text-anchor="start" fill="#000" color="#000" textLength="32.4" lengthAdjust="spacingAndGlyphs" >A<tspan font-size="6.08" dy="1.76">3</tspan><tspan dy="-1.76">​</tspan>B<tspan font-size="6.08" dy="1.76">3</tspan><tspan dy="-1.76">​</tspan>C<tspan font-size="6.08" dy="1.76">2</tspan><tspan dy="-1.76">​</tspan>D<tspan font-size="6.08" dy="1.76">1</tspan><tspan dy="-1.76">​</tspan></text>
<text transform="translate(453.4,33.8)" font-size="9.6" text-anchor="start" fill="#000" color="#000" textLength="29.8" lengthAdjust="spacingAndGlyphs" >Foundry</text>
<text transform="translate(441,44.8)" font-size="9.6" text-anchor="start" fill="#000" color="#000" textLength="54.5" lengthAdjust="spacingAndGlyphs" >Heat Treatment</text>
<text transform="translate(530.5,231.2)" font-size="9.6" text-anchor="middle" fill="#000" color="#000" textLength="49" lengthAdjust="spacingAndGlyphs" >content (%)</text>
<text transform="translate(361.5,110.8) rotate(-90)" font-size="10" text-anchor="middle" fill="#000" color="#000" textLength="71.6" lengthAdjust="spacingAndGlyphs" >Elongation Δ(%)</text>
</g>
<text transform="translate(344.3,13.6)" font-size="20.2" text-anchor="start" fill="#000" color="#000" textLength="21.2" lengthAdjust="spacingAndGlyphs" >(b)</text>
<g clip-path="url(#clipC)">
<line x1="61.43" y1="428.5" x2="61.43" y2="424.6" stroke="#262626" stroke-width="1.05" />
<text transform="translate(61.43,439.4)" font-size="8.2" text-anchor="middle" fill="#000" color="#000" textLength="10.6" lengthAdjust="spacingAndGlyphs" >0.0</text>
<line x1="96.6" y1="428.5" x2="96.6" y2="424.6" stroke="#262626" stroke-width="1.05" />
<text transform="translate(96.6,439.4)" font-size="8.2" text-anchor="middle" fill="#000" color="#000" textLength="10.6" lengthAdjust="spacingAndGlyphs" >0.5</text>
<line x1="131.78" y1="428.5" x2="131.78" y2="424.6" stroke="#262626" stroke-width="1.05" />
<text transform="translate(131.78,439.4)" font-size="8.2" text-anchor="middle" fill="#000" color="#000" textLength="10.6" lengthAdjust="spacingAndGlyphs" >1.0</text>
<line x1="166.95" y1="428.5" x2="166.95" y2="424.6" stroke="#262626" stroke-width="1.05" />
<text transform="translate(166.95,439.4)" font-size="8.2" text-anchor="middle" fill="#000" color="#000" textLength="10.6" lengthAdjust="spacingAndGlyphs" >1.5</text>
<line x1="202.13" y1="428.5" x2="202.13" y2="424.6" stroke="#262626" stroke-width="1.05" />
<text transform="translate(202.13,439.4)" font-size="8.2" text-anchor="middle" fill="#000" color="#000" textLength="10.6" lengthAdjust="spacingAndGlyphs" >2.0</text>
<line x1="237.31" y1="428.5" x2="237.31" y2="424.6" stroke="#262626" stroke-width="1.05" />
<text transform="translate(237.31,439.4)" font-size="8.2" text-anchor="middle" fill="#000" color="#000" textLength="10.6" lengthAdjust="spacingAndGlyphs" >2.5</text>
<line x1="272.48" y1="428.5" x2="272.48" y2="424.6" stroke="#262626" stroke-width="1.05" />
<text transform="translate(272.48,439.4)" font-size="8.2" text-anchor="middle" fill="#000" color="#000" textLength="10.6" lengthAdjust="spacingAndGlyphs" >3.0</text>
<line x1="307.65" y1="428.5" x2="307.65" y2="424.6" stroke="#262626" stroke-width="1.05" />
<text transform="translate(307.65,439.4)" font-size="8.2" text-anchor="middle" fill="#000" color="#000" textLength="10.6" lengthAdjust="spacingAndGlyphs" >3.5</text>
<line x1="342.83" y1="428.5" x2="342.83" y2="424.6" stroke="#262626" stroke-width="1.05" />
<text transform="translate(342.83,439.4)" font-size="8.2" text-anchor="middle" fill="#000" color="#000" textLength="10.6" lengthAdjust="spacingAndGlyphs" >4.0</text>
<line x1="44.1" y1="428.18" x2="48.1" y2="428.18" stroke="#4e4e4e" stroke-width="1" />
<text transform="translate(39.6,430.98)" font-size="8.2" text-anchor="end" fill="#000" color="#000" textLength="10.2" lengthAdjust="spacingAndGlyphs" >5.2</text>
<line x1="44.1" y1="401.54" x2="48.1" y2="401.54" stroke="#4e4e4e" stroke-width="1" />
<text transform="translate(39.6,404.34)" font-size="8.2" text-anchor="end" fill="#000" color="#000" textLength="10.2" lengthAdjust="spacingAndGlyphs" >5.4</text>
<line x1="44.1" y1="374.9" x2="48.1" y2="374.9" stroke="#4e4e4e" stroke-width="1" />
<text transform="translate(39.6,377.7)" font-size="8.2" text-anchor="end" fill="#000" color="#000" textLength="10.2" lengthAdjust="spacingAndGlyphs" >5.6</text>
<line x1="44.1" y1="348.26" x2="48.1" y2="348.26" stroke="#4e4e4e" stroke-width="1" />
<text transform="translate(39.6,351.06)" font-size="8.2" text-anchor="end" fill="#000" color="#000" textLength="10.2" lengthAdjust="spacingAndGlyphs" >5.8</text>
<line x1="44.1" y1="321.62" x2="48.1" y2="321.62" stroke="#4e4e4e" stroke-width="1" />
<text transform="translate(39.6,324.42)" font-size="8.2" text-anchor="end" fill="#000" color="#000" textLength="10.2" lengthAdjust="spacingAndGlyphs" >6.0</text>
<line x1="44.1" y1="294.98" x2="48.1" y2="294.98" stroke="#4e4e4e" stroke-width="1" />
<text transform="translate(39.6,297.78)" font-size="8.2" text-anchor="end" fill="#000" color="#000" textLength="10.2" lengthAdjust="spacingAndGlyphs" >6.2</text>
<line x1="44.1" y1="268.34" x2="48.1" y2="268.34" stroke="#4e4e4e" stroke-width="1" />
<text transform="translate(39.6,271.14)" font-size="8.2" text-anchor="end" fill="#000" color="#000" textLength="10.2" lengthAdjust="spacingAndGlyphs" >6.4</text>
<line x1="44.1" y1="241.7" x2="48.1" y2="241.7" stroke="#4e4e4e" stroke-width="1" />
<text transform="translate(39.6,244.5)" font-size="8.2" text-anchor="end" fill="#000" color="#000" textLength="10.2" lengthAdjust="spacingAndGlyphs" >6.6</text>
<line x1="44.1" y1="414.86" x2="46.3" y2="414.86" stroke="#4e4e4e" stroke-width="1" />
<line x1="44.1" y1="388.22" x2="46.3" y2="388.22" stroke="#4e4e4e" stroke-width="1" />
<line x1="44.1" y1="361.58" x2="46.3" y2="361.58" stroke="#4e4e4e" stroke-width="1" />
<line x1="44.1" y1="334.94" x2="46.3" y2="334.94" stroke="#4e4e4e" stroke-width="1" />
<line x1="44.1" y1="308.3" x2="46.3" y2="308.3" stroke="#4e4e4e" stroke-width="1" />
<line x1="44.1" y1="281.66" x2="46.3" y2="281.66" stroke="#4e4e4e" stroke-width="1" />
<line x1="44.1" y1="255.02" x2="46.3" y2="255.02" stroke="#4e4e4e" stroke-width="1" />
<path d="M44,428.1 V241.9 H343.1 V428.1" fill="none" stroke="#4e4e4e" stroke-width="1.3" stroke-linecap="square"/>
<line x1="43.4" y1="428.5" x2="343.7" y2="428.5" stroke="#262626" stroke-width="1.1"/>
<line x1="61.43" y1="364.5" x2="61.43" y2="367.5" stroke="#555555" stroke-width="0.5" stroke-opacity="0.6"/>
<line x1="59.63" y1="364.5" x2="63.23" y2="364.5" stroke="#555555" stroke-width="0.5" stroke-opacity="0.6"/>
<line x1="59.63" y1="367.5" x2="63.23" y2="367.5" stroke="#555555" stroke-width="0.5" stroke-opacity="0.6"/>
<line x1="96.6" y1="367.9" x2="96.6" y2="372.9" stroke="#555555" stroke-width="0.5" stroke-opacity="0.6"/>
<line x1="94.8" y1="367.9" x2="98.4" y2="367.9" stroke="#555555" stroke-width="0.5" stroke-opacity="0.6"/>
<line x1="94.8" y1="372.9" x2="98.4" y2="372.9" stroke="#555555" stroke-width="0.5" stroke-opacity="0.6"/>
<line x1="131.78" y1="380.7" x2="131.78" y2="383.7" stroke="#555555" stroke-width="0.5" stroke-opacity="0.6"/>
<line x1="129.98" y1="380.7" x2="133.58" y2="380.7" stroke="#555555" stroke-width="0.5" stroke-opacity="0.6"/>
<line x1="129.98" y1="383.7" x2="133.58" y2="383.7" stroke="#555555" stroke-width="0.5" stroke-opacity="0.6"/>
<line x1="202.13" y1="390.6" x2="202.13" y2="392.6" stroke="#555555" stroke-width="0.5" stroke-opacity="0.6"/>
<line x1="200.33" y1="390.6" x2="203.93" y2="390.6" stroke="#555555" stroke-width="0.5" stroke-opacity="0.6"/>
<line x1="200.33" y1="392.6" x2="203.93" y2="392.6" stroke="#555555" stroke-width="0.5" stroke-opacity="0.6"/>
<line x1="272.48" y1="388.5" x2="272.48" y2="390.5" stroke="#555555" stroke-width="0.5" stroke-opacity="0.6"/>
<line x1="270.68" y1="388.5" x2="274.28" y2="388.5" stroke="#555555" stroke-width="0.5" stroke-opacity="0.6"/>
<line x1="270.68" y1="390.5" x2="274.28" y2="390.5" stroke="#555555" stroke-width="0.5" stroke-opacity="0.6"/>
<polyline points="61.43,366 96.6,370.4 131.78,382.2 202.13,391.6 272.48,389.5" fill="none" stroke="#555555" stroke-width="0.8" stroke-linejoin="round" />
<rect x="60.03" y="364.6" width="2.8" height="2.8" fill="#555555"/>
<rect x="95.2" y="369" width="2.8" height="2.8" fill="#555555"/>
<rect x="130.38" y="380.8" width="2.8" height="2.8" fill="#555555"/>
<rect x="200.73" y="390.2" width="2.8" height="2.8" fill="#555555"/>
<rect x="271.08" y="388.1" width="2.8" height="2.8" fill="#555555"/>
<line x1="61.43" y1="348.3" x2="61.43" y2="352.3" stroke="#e8363a" stroke-width="0.5" stroke-opacity="0.6"/>
<line x1="59.63" y1="348.3" x2="63.23" y2="348.3" stroke="#e8363a" stroke-width="0.5" stroke-opacity="0.6"/>
<line x1="59.63" y1="352.3" x2="63.23" y2="352.3" stroke="#e8363a" stroke-width="0.5" stroke-opacity="0.6"/>
<line x1="96.6" y1="356.4" x2="96.6" y2="362.4" stroke="#e8363a" stroke-width="0.5" stroke-opacity="0.6"/>
<line x1="94.8" y1="356.4" x2="98.4" y2="356.4" stroke="#e8363a" stroke-width="0.5" stroke-opacity="0.6"/>
<line x1="94.8" y1="362.4" x2="98.4" y2="362.4" stroke="#e8363a" stroke-width="0.5" stroke-opacity="0.6"/>
<line x1="131.78" y1="363.8" x2="131.78" y2="367.8" stroke="#e8363a" stroke-width="0.5" stroke-opacity="0.6"/>
<line x1="129.98" y1="363.8" x2="133.58" y2="363.8" stroke="#e8363a" stroke-width="0.5" stroke-opacity="0.6"/>
<line x1="129.98" y1="367.8" x2="133.58" y2="367.8" stroke="#e8363a" stroke-width="0.5" stroke-opacity="0.6"/>
<line x1="202.13" y1="360.8" x2="202.13" y2="364.8" stroke="#e8363a" stroke-width="0.5" stroke-opacity="0.6"/>
<line x1="200.33" y1="360.8" x2="203.93" y2="360.8" stroke="#e8363a" stroke-width="0.5" stroke-opacity="0.6"/>
<line x1="200.33" y1="364.8" x2="203.93" y2="364.8" stroke="#e8363a" stroke-width="0.5" stroke-opacity="0.6"/>
<line x1="272.48" y1="363.4" x2="272.48" y2="367.4" stroke="#e8363a" stroke-width="0.5" stroke-opacity="0.6"/>
<line x1="270.68" y1="363.4" x2="274.28" y2="363.4" stroke="#e8363a" stroke-width="0.5" stroke-opacity="0.6"/>
<line x1="270.68" y1="367.4" x2="274.28" y2="367.4" stroke="#e8363a" stroke-width="0.5" stroke-opacity="0.6"/>
<polyline points="61.43,350.3 96.6,359.4 131.78,365.8 202.13,362.8 272.48,365.4" fill="none" stroke="#e8363a" stroke-width="0.8" stroke-linejoin="round" />
<circle cx="61.43" cy="350.3" r="1.4" fill="#e8363a"/>
<circle cx="96.6" cy="359.4" r="1.4" fill="#e8363a"/>
<circle cx="131.78" cy="365.8" r="1.4" fill="#e8363a"/>
<circle cx="202.13" cy="362.8" r="1.4" fill="#e8363a"/>
<circle cx="272.48" cy="365.4" r="1.4" fill="#e8363a"/>
<line x1="61.43" y1="322" x2="61.43" y2="326" stroke="#2a6fd8" stroke-width="0.5" stroke-opacity="0.6"/>
<line x1="59.63" y1="322" x2="63.23" y2="322" stroke="#2a6fd8" stroke-width="0.5" stroke-opacity="0.6"/>
<line x1="59.63" y1="326" x2="63.23" y2="326" stroke="#2a6fd8" stroke-width="0.5" stroke-opacity="0.6"/>
<line x1="96.6" y1="325.9" x2="96.6" y2="329.9" stroke="#2a6fd8" stroke-width="0.5" stroke-opacity="0.6"/>
<line x1="94.8" y1="325.9" x2="98.4" y2="325.9" stroke="#2a6fd8" stroke-width="0.5" stroke-opacity="0.6"/>
<line x1="94.8" y1="329.9" x2="98.4" y2="329.9" stroke="#2a6fd8" stroke-width="0.5" stroke-opacity="0.6"/>
<line x1="131.78" y1="330.8" x2="131.78" y2="334.8" stroke="#2a6fd8" stroke-width="0.5" stroke-opacity="0.6"/>
<line x1="129.98" y1="330.8" x2="133.58" y2="330.8" stroke="#2a6fd8" stroke-width="0.5" stroke-opacity="0.6"/>
<line x1="129.98" y1="334.8" x2="133.58" y2="334.8" stroke="#2a6fd8" stroke-width="0.5" stroke-opacity="0.6"/>
<line x1="202.13" y1="336.4" x2="202.13" y2="340.4" stroke="#2a6fd8" stroke-width="0.5" stroke-opacity="0.6"/>
<line x1="200.33" y1="336.4" x2="203.93" y2="336.4" stroke="#2a6fd8" stroke-width="0.5" stroke-opacity="0.6"/>
<line x1="200.33" y1="340.4" x2="203.93" y2="340.4" stroke="#2a6fd8" stroke-width="0.5" stroke-opacity="0.6"/>
<line x1="272.48" y1="338.6" x2="272.48" y2="342.6" stroke="#2a6fd8" stroke-width="0.5" stroke-opacity="0.6"/>
<line x1="270.68" y1="338.6" x2="274.28" y2="338.6" stroke="#2a6fd8" stroke-width="0.5" stroke-opacity="0.6"/>
<line x1="270.68" y1="342.6" x2="274.28" y2="342.6" stroke="#2a6fd8" stroke-width="0.5" stroke-opacity="0.6"/>
<polyline points="61.43,324 96.6,327.9 131.78,332.8 202.13,338.4 272.48,340.6" fill="none" stroke="#2a6fd8" stroke-width="0.8" stroke-linejoin="round" />
<polygon points="61.43,322.39 62.97,325.05 59.89,325.05" fill="#2a6fd8"/>
<polygon points="96.6,326.29 98.14,328.95 95.06,328.95" fill="#2a6fd8"/>
<polygon points="131.78,331.19 133.32,333.85 130.24,333.85" fill="#2a6fd8"/>
<polygon points="202.13,336.79 203.67,339.45 200.59,339.45" fill="#2a6fd8"/>
<polygon points="272.48,338.99 274.02,341.65 270.94,341.65" fill="#2a6fd8"/>
<line x1="61.43" y1="311" x2="61.43" y2="315" stroke="#2aa060" stroke-width="0.5" stroke-opacity="0.6"/>
<line x1="59.63" y1="311" x2="63.23" y2="311" stroke="#2aa060" stroke-width="0.5" stroke-opacity="0.6"/>
<line x1="59.63" y1="315" x2="63.23" y2="315" stroke="#2aa060" stroke-width="0.5" stroke-opacity="0.6"/>
<line x1="96.6" y1="323.1" x2="96.6" y2="329.1" stroke="#2aa060" stroke-width="0.5" stroke-opacity="0.6"/>
<line x1="94.8" y1="323.1" x2="98.4" y2="323.1" stroke="#2aa060" stroke-width="0.5" stroke-opacity="0.6"/>
<line x1="94.8" y1="329.1" x2="98.4" y2="329.1" stroke="#2aa060" stroke-width="0.5" stroke-opacity="0.6"/>
<line x1="131.78" y1="315.9" x2="131.78" y2="321.9" stroke="#2aa060" stroke-width="0.5" stroke-opacity="0.6"/>
<line x1="129.98" y1="315.9" x2="133.58" y2="315.9" stroke="#2aa060" stroke-width="0.5" stroke-opacity="0.6"/>
<line x1="129.98" y1="321.9" x2="133.58" y2="321.9" stroke="#2aa060" stroke-width="0.5" stroke-opacity="0.6"/>
<line x1="202.13" y1="325.8" x2="202.13" y2="332.8" stroke="#2aa060" stroke-width="0.5" stroke-opacity="0.6"/>
<line x1="200.33" y1="325.8" x2="203.93" y2="325.8" stroke="#2aa060" stroke-width="0.5" stroke-opacity="0.6"/>
<line x1="200.33" y1="332.8" x2="203.93" y2="332.8" stroke="#2aa060" stroke-width="0.5" stroke-opacity="0.6"/>
<line x1="272.48" y1="309.9" x2="272.48" y2="314.9" stroke="#2aa060" stroke-width="0.5" stroke-opacity="0.6"/>
<line x1="270.68" y1="309.9" x2="274.28" y2="309.9" stroke="#2aa060" stroke-width="0.5" stroke-opacity="0.6"/>
<line x1="270.68" y1="314.9" x2="274.28" y2="314.9" stroke="#2aa060" stroke-width="0.5" stroke-opacity="0.6"/>
<polyline points="61.43,313 96.6,326.1 131.78,318.9 202.13,329.3 272.48,312.4" fill="none" stroke="#2aa060" stroke-width="0.8" stroke-linejoin="round" />
<polygon points="61.43,314.61 62.97,311.95 59.89,311.95" fill="#2aa060"/>
<polygon points="96.6,327.71 98.14,325.05 95.06,325.05" fill="#2aa060"/>
<polygon points="131.78,320.51 133.32,317.85 130.24,317.85" fill="#2aa060"/>
<polygon points="202.13,330.91 203.67,328.25 200.59,328.25" fill="#2aa060"/>
<polygon points="272.48,314.01 274.02,311.35 270.94,311.35" fill="#2aa060"/>
<line x1="61.43" y1="301.9" x2="61.43" y2="307.9" stroke="#b47ce0" stroke-width="0.5" stroke-opacity="0.6"/>
<line x1="59.63" y1="301.9" x2="63.23" y2="301.9" stroke="#b47ce0" stroke-width="0.5" stroke-opacity="0.6"/>
<line x1="59.63" y1="307.9" x2="63.23" y2="307.9" stroke="#b47ce0" stroke-width="0.5" stroke-opacity="0.6"/>
<line x1="96.6" y1="308.9" x2="96.6" y2="314.9" stroke="#b47ce0" stroke-width="0.5" stroke-opacity="0.6"/>
<line x1="94.8" y1="308.9" x2="98.4" y2="308.9" stroke="#b47ce0" stroke-width="0.5" stroke-opacity="0.6"/>
<line x1="94.8" y1="314.9" x2="98.4" y2="314.9" stroke="#b47ce0" stroke-width="0.5" stroke-opacity="0.6"/>
<line x1="131.78" y1="308" x2="131.78" y2="314" stroke="#b47ce0" stroke-width="0.5" stroke-opacity="0.6"/>
<line x1="129.98" y1="308" x2="133.58" y2="308" stroke="#b47ce0" stroke-width="0.5" stroke-opacity="0.6"/>
<line x1="129.98" y1="314" x2="133.58" y2="314" stroke="#b47ce0" stroke-width="0.5" stroke-opacity="0.6"/>
<line x1="202.13" y1="302.9" x2="202.13" y2="308.9" stroke="#b47ce0" stroke-width="0.5" stroke-opacity="0.6"/>
<line x1="200.33" y1="302.9" x2="203.93" y2="302.9" stroke="#b47ce0" stroke-width="0.5" stroke-opacity="0.6"/>
<line x1="200.33" y1="308.9" x2="203.93" y2="308.9" stroke="#b47ce0" stroke-width="0.5" stroke-opacity="0.6"/>
<line x1="272.48" y1="308.5" x2="272.48" y2="313.5" stroke="#b47ce0" stroke-width="0.5" stroke-opacity="0.6"/>
<line x1="270.68" y1="308.5" x2="274.28" y2="308.5" stroke="#b47ce0" stroke-width="0.5" stroke-opacity="0.6"/>
<line x1="270.68" y1="313.5" x2="274.28" y2="313.5" stroke="#b47ce0" stroke-width="0.5" stroke-opacity="0.6"/>
<polyline points="61.43,304.9 96.6,311.9 131.78,311 202.13,305.9 272.48,311" fill="none" stroke="#b47ce0" stroke-width="0.8" stroke-linejoin="round" />
<polygon points="61.43,303.08 62.97,304.9 61.43,306.72 59.89,304.9" fill="#b47ce0"/>
<polygon points="96.6,310.08 98.14,311.9 96.6,313.72 95.06,311.9" fill="#b47ce0"/>
<polygon points="131.78,309.18 133.32,311 131.78,312.82 130.24,311" fill="#b47ce0"/>
<polygon points="202.13,304.08 203.67,305.9 202.13,307.72 200.59,305.9" fill="#b47ce0"/>
<polygon points="272.48,309.18 274.02,311 272.48,312.82 270.94,311" fill="#b47ce0"/>
<line x1="61.43" y1="269.3" x2="61.43" y2="275.3" stroke="#c99a18" stroke-width="0.5" stroke-opacity="0.6"/>
<line x1="59.63" y1="269.3" x2="63.23" y2="269.3" stroke="#c99a18" stroke-width="0.5" stroke-opacity="0.6"/>
<line x1="59.63" y1="275.3" x2="63.23" y2="275.3" stroke="#c99a18" stroke-width="0.5" stroke-opacity="0.6"/>
<line x1="96.6" y1="273.1" x2="96.6" y2="281.1" stroke="#c99a18" stroke-width="0.5" stroke-opacity="0.6"/>
<line x1="94.8" y1="273.1" x2="98.4" y2="273.1" stroke="#c99a18" stroke-width="0.5" stroke-opacity="0.6"/>
<line x1="94.8" y1="281.1" x2="98.4" y2="281.1" stroke="#c99a18" stroke-width="0.5" stroke-opacity="0.6"/>
<line x1="131.78" y1="281.3" x2="131.78" y2="288.3" stroke="#c99a18" stroke-width="0.5" stroke-opacity="0.6"/>
<line x1="129.98" y1="281.3" x2="133.58" y2="281.3" stroke="#c99a18" stroke-width="0.5" stroke-opacity="0.6"/>
<line x1="129.98" y1="288.3" x2="133.58" y2="288.3" stroke="#c99a18" stroke-width="0.5" stroke-opacity="0.6"/>
<line x1="202.13" y1="274.3" x2="202.13" y2="281.3" stroke="#c99a18" stroke-width="0.5" stroke-opacity="0.6"/>
<line x1="200.33" y1="274.3" x2="203.93" y2="274.3" stroke="#c99a18" stroke-width="0.5" stroke-opacity="0.6"/>
<line x1="200.33" y1="281.3" x2="203.93" y2="281.3" stroke="#c99a18" stroke-width="0.5" stroke-opacity="0.6"/>
<line x1="272.48" y1="275.7" x2="272.48" y2="281.7" stroke="#c99a18" stroke-width="0.5" stroke-opacity="0.6"/>
<line x1="270.68" y1="275.7" x2="274.28" y2="275.7" stroke="#c99a18" stroke-width="0.5" stroke-opacity="0.6"/>
<line x1="270.68" y1="281.7" x2="274.28" y2="281.7" stroke="#c99a18" stroke-width="0.5" stroke-opacity="0.6"/>
<polyline points="61.43,272.3 96.6,277.1 131.78,284.8 202.13,277.8 272.48,278.7" fill="none" stroke="#c99a18" stroke-width="0.8" stroke-linejoin="round" />
<polygon points="59.82,272.3 62.48,270.76 62.48,273.84" fill="#c99a18"/>
<polygon points="94.99,277.1 97.65,275.56 97.65,278.64" fill="#c99a18"/>
<polygon points="130.17,284.8 132.83,283.26 132.83,286.34" fill="#c99a18"/>
<polygon points="200.52,277.8 203.18,276.26 203.18,279.34" fill="#c99a18"/>
<polygon points="270.87,278.7 273.53,277.16 273.53,280.24" fill="#c99a18"/>
<line x1="61.43" y1="316.6" x2="61.43" y2="322.6" stroke="#35cdd0" stroke-width="0.5" stroke-opacity="0.6"/>
<line x1="59.63" y1="316.6" x2="63.23" y2="316.6" stroke="#35cdd0" stroke-width="0.5" stroke-opacity="0.6"/>
<line x1="59.63" y1="322.6" x2="63.23" y2="322.6" stroke="#35cdd0" stroke-width="0.5" stroke-opacity="0.6"/>
<line x1="96.6" y1="327.1" x2="96.6" y2="334.1" stroke="#35cdd0" stroke-width="0.5" stroke-opacity="0.6"/>
<line x1="94.8" y1="327.1" x2="98.4" y2="327.1" stroke="#35cdd0" stroke-width="0.5" stroke-opacity="0.6"/>
<line x1="94.8" y1="334.1" x2="98.4" y2="334.1" stroke="#35cdd0" stroke-width="0.5" stroke-opacity="0.6"/>
<line x1="131.78" y1="332.5" x2="131.78" y2="336.5" stroke="#35cdd0" stroke-width="0.5" stroke-opacity="0.6"/>
<line x1="129.98" y1="332.5" x2="133.58" y2="332.5" stroke="#35cdd0" stroke-width="0.5" stroke-opacity="0.6"/>
<line x1="129.98" y1="336.5" x2="133.58" y2="336.5" stroke="#35cdd0" stroke-width="0.5" stroke-opacity="0.6"/>
<line x1="202.13" y1="341.5" x2="202.13" y2="347.5" stroke="#35cdd0" stroke-width="0.5" stroke-opacity="0.6"/>
<line x1="200.33" y1="341.5" x2="203.93" y2="341.5" stroke="#35cdd0" stroke-width="0.5" stroke-opacity="0.6"/>
<line x1="200.33" y1="347.5" x2="203.93" y2="347.5" stroke="#35cdd0" stroke-width="0.5" stroke-opacity="0.6"/>
<line x1="272.48" y1="336.9" x2="272.48" y2="340.9" stroke="#35cdd0" stroke-width="0.5" stroke-opacity="0.6"/>
<line x1="270.68" y1="336.9" x2="274.28" y2="336.9" stroke="#35cdd0" stroke-width="0.5" stroke-opacity="0.6"/>
<line x1="270.68" y1="340.9" x2="274.28" y2="340.9" stroke="#35cdd0" stroke-width="0.5" stroke-opacity="0.6"/>
<polyline points="61.43,319.6 96.6,330.6 131.78,334.5 202.13,344.5 272.48,338.9" fill="none" stroke="#35cdd0" stroke-width="0.8" stroke-linejoin="round" />
<polygon points="63.04,319.6 60.38,318.06 60.38,321.14" fill="#35cdd0"/>
<polygon points="98.21,330.6 95.55,329.06 95.55,332.14" fill="#35cdd0"/>
<polygon points="133.39,334.5 130.73,332.96 130.73,336.04" fill="#35cdd0"/>
<polygon points="203.74,344.5 201.08,342.96 201.08,346.04" fill="#35cdd0"/>
<polygon points="274.09,338.9 271.43,337.36 271.43,340.44" fill="#35cdd0"/>
<line x1="61.43" y1="329.4" x2="61.43" y2="333.4" stroke="#7a4a44" stroke-width="0.5" stroke-opacity="0.6"/>
<line x1="59.63" y1="329.4" x2="63.23" y2="329.4" stroke="#7a4a44" stroke-width="0.5" stroke-opacity="0.6"/>
<line x1="59.63" y1="333.4" x2="63.23" y2="333.4" stroke="#7a4a44" stroke-width="0.5" stroke-opacity="0.6"/>
<line x1="96.6" y1="340.7" x2="96.6" y2="346.7" stroke="#7a4a44" stroke-width="0.5" stroke-opacity="0.6"/>
<line x1="94.8" y1="340.7" x2="98.4" y2="340.7" stroke="#7a4a44" stroke-width="0.5" stroke-opacity="0.6"/>
<line x1="94.8" y1="346.7" x2="98.4" y2="346.7" stroke="#7a4a44" stroke-width="0.5" stroke-opacity="0.6"/>
<line x1="131.78" y1="341.5" x2="131.78" y2="347.5" stroke="#7a4a44" stroke-width="0.5" stroke-opacity="0.6"/>
<line x1="129.98" y1="341.5" x2="133.58" y2="341.5" stroke="#7a4a44" stroke-width="0.5" stroke-opacity="0.6"/>
<line x1="129.98" y1="347.5" x2="133.58" y2="347.5" stroke="#7a4a44" stroke-width="0.5" stroke-opacity="0.6"/>
<line x1="202.13" y1="350.7" x2="202.13" y2="354.7" stroke="#7a4a44" stroke-width="0.5" stroke-opacity="0.6"/>
<line x1="200.33" y1="350.7" x2="203.93" y2="350.7" stroke="#7a4a44" stroke-width="0.5" stroke-opacity="0.6"/>
<line x1="200.33" y1="354.7" x2="203.93" y2="354.7" stroke="#7a4a44" stroke-width="0.5" stroke-opacity="0.6"/>
<line x1="272.48" y1="330.4" x2="272.48" y2="335.4" stroke="#7a4a44" stroke-width="0.5" stroke-opacity="0.6"/>
<line x1="270.68" y1="330.4" x2="274.28" y2="330.4" stroke="#7a4a44" stroke-width="0.5" stroke-opacity="0.6"/>
<line x1="270.68" y1="335.4" x2="274.28" y2="335.4" stroke="#7a4a44" stroke-width="0.5" stroke-opacity="0.6"/>
<polyline points="61.43,331.4 96.6,343.7 131.78,344.5 202.13,352.7 272.48,332.9" fill="none" stroke="#7a4a44" stroke-width="0.8" stroke-linejoin="round" />
<polygon points="62.97,331.4 62.2,332.73 60.66,332.73 59.89,331.4 60.66,330.07 62.2,330.07" fill="#7a4a44"/>
<polygon points="98.14,343.7 97.37,345.03 95.83,345.03 95.06,343.7 95.83,342.37 97.37,342.37" fill="#7a4a44"/>
<polygon points="133.32,344.5 132.55,345.83 131.01,345.83 130.24,344.5 131.01,343.17 132.55,343.17" fill="#7a4a44"/>
<polygon points="203.67,352.7 202.9,354.03 201.36,354.03 200.59,352.7 201.36,351.37 202.9,351.37" fill="#7a4a44"/>
<polygon points="274.02,332.9 273.25,334.23 271.71,334.23 270.94,332.9 271.71,331.57 273.25,331.57" fill="#7a4a44"/>
<line x1="61.43" y1="336.9" x2="61.43" y2="340.9" stroke="#a0a030" stroke-width="0.5" stroke-opacity="0.6"/>
<line x1="59.63" y1="336.9" x2="63.23" y2="336.9" stroke="#a0a030" stroke-width="0.5" stroke-opacity="0.6"/>
<line x1="59.63" y1="340.9" x2="63.23" y2="340.9" stroke="#a0a030" stroke-width="0.5" stroke-opacity="0.6"/>
<line x1="96.6" y1="342.5" x2="96.6" y2="346.5" stroke="#a0a030" stroke-width="0.5" stroke-opacity="0.6"/>
<line x1="94.8" y1="342.5" x2="98.4" y2="342.5" stroke="#a0a030" stroke-width="0.5" stroke-opacity="0.6"/>
<line x1="94.8" y1="346.5" x2="98.4" y2="346.5" stroke="#a0a030" stroke-width="0.5" stroke-opacity="0.6"/>
<line x1="131.78" y1="344.5" x2="131.78" y2="348.5" stroke="#a0a030" stroke-width="0.5" stroke-opacity="0.6"/>
<line x1="129.98" y1="344.5" x2="133.58" y2="344.5" stroke="#a0a030" stroke-width="0.5" stroke-opacity="0.6"/>
<line x1="129.98" y1="348.5" x2="133.58" y2="348.5" stroke="#a0a030" stroke-width="0.5" stroke-opacity="0.6"/>
<line x1="202.13" y1="350.7" x2="202.13" y2="354.7" stroke="#a0a030" stroke-width="0.5" stroke-opacity="0.6"/>
<line x1="200.33" y1="350.7" x2="203.93" y2="350.7" stroke="#a0a030" stroke-width="0.5" stroke-opacity="0.6"/>
<line x1="200.33" y1="354.7" x2="203.93" y2="354.7" stroke="#a0a030" stroke-width="0.5" stroke-opacity="0.6"/>
<line x1="272.48" y1="349.8" x2="272.48" y2="353.8" stroke="#a0a030" stroke-width="0.5" stroke-opacity="0.6"/>
<line x1="270.68" y1="349.8" x2="274.28" y2="349.8" stroke="#a0a030" stroke-width="0.5" stroke-opacity="0.6"/>
<line x1="270.68" y1="353.8" x2="274.28" y2="353.8" stroke="#a0a030" stroke-width="0.5" stroke-opacity="0.6"/>
<polyline points="61.43,338.9 96.6,344.5 131.78,346.5 202.13,352.7 272.48,351.8" fill="none" stroke="#a0a030" stroke-width="0.8" stroke-linejoin="round" />
<polygon points="61.43,336.94 61.92,338.22 63.29,338.29 62.23,339.16 62.58,340.49 61.43,339.74 60.28,340.49 60.63,339.16 59.57,338.29 60.94,338.22" fill="#a0a030"/>
<polygon points="96.6,342.54 97.1,343.82 98.47,343.89 97.4,344.76 97.76,346.09 96.6,345.34 95.45,346.09 95.81,344.76 94.74,343.89 96.11,343.82" fill="#a0a030"/>
<polygon points="131.78,344.54 132.27,345.82 133.64,345.89 132.58,346.76 132.93,348.09 131.78,347.34 130.63,348.09 130.98,346.76 129.92,345.89 131.29,345.82" fill="#a0a030"/>
<polygon points="202.13,350.74 202.62,352.02 203.99,352.09 202.93,352.96 203.28,354.29 202.13,353.54 200.98,354.29 201.33,352.96 200.27,352.09 201.64,352.02" fill="#a0a030"/>
<polygon points="272.48,349.84 272.97,351.12 274.34,351.19 273.28,352.06 273.63,353.39 272.48,352.64 271.33,353.39 271.68,352.06 270.62,351.19 271.99,351.12" fill="#a0a030"/>
<text transform="translate(289.2,284.2)" font-size="9" text-anchor="start" fill="#000" color="#000" textLength="35.8" lengthAdjust="spacingAndGlyphs" >BN<tspan font-size="6.84" dy="1.98">2</tspan><tspan dy="-1.98">​</tspan>(μm)</text>
<line x1="283" y1="293.1" x2="300.7" y2="293.1" stroke="#555555" stroke-width="1.5" />
<rect x="290.5" y="291.8" width="2.6" height="2.6" fill="#555555"/>
<text transform="translate(302.9,296)" font-size="8" text-anchor="start" fill="#000" color="#000" textLength="32.1" lengthAdjust="spacingAndGlyphs" >A<tspan font-size="6.08" dy="1.76">1</tspan><tspan dy="-1.76">​</tspan>B<tspan font-size="6.08" dy="1.76">1</tspan><tspan dy="-1.76">​</tspan>C<tspan font-size="6.08" dy="1.76">1</tspan><tspan dy="-1.76">​</tspan>D<tspan font-size="6.08" dy="1.76">1</tspan><tspan dy="-1.76">​</tspan></text>
<line x1="283" y1="304.55" x2="300.7" y2="304.55" stroke="#e8363a" stroke-width="1.5" />
<circle cx="291.8" cy="304.55" r="1.3" fill="#e8363a"/>
<text transform="translate(302.9,307.45)" font-size="8" text-anchor="start" fill="#000" color="#000" textLength="32.1" lengthAdjust="spacingAndGlyphs" >A<tspan font-size="6.08" dy="1.76">1</tspan><tspan dy="-1.76">​</tspan>B<tspan font-size="6.08" dy="1.76">2</tspan><tspan dy="-1.76">​</tspan>C<tspan font-size="6.08" dy="1.76">2</tspan><tspan dy="-1.76">​</tspan>D<tspan font-size="6.08" dy="1.76">2</tspan><tspan dy="-1.76">​</tspan></text>
<line x1="283" y1="316" x2="300.7" y2="316" stroke="#2a6fd8" stroke-width="1.5" />
<polygon points="291.8,314.5 293.23,316.98 290.37,316.98" fill="#2a6fd8"/>
<text transform="translate(302.9,318.9)" font-size="8" text-anchor="start" fill="#000" color="#000" textLength="32.1" lengthAdjust="spacingAndGlyphs" >A<tspan font-size="6.08" dy="1.76">1</tspan><tspan dy="-1.76">​</tspan>B<tspan font-size="6.08" dy="1.76">3</tspan><tspan dy="-1.76">​</tspan>C<tspan font-size="6.08" dy="1.76">3</tspan><tspan dy="-1.76">​</tspan>D<tspan font-size="6.08" dy="1.76">3</tspan><tspan dy="-1.76">​</tspan></text>
<line x1="283" y1="327.45" x2="300.7" y2="327.45" stroke="#2aa060" stroke-width="1.5" />
<polygon points="291.8,328.95 293.23,326.48 290.37,326.48" fill="#2aa060"/>
<text transform="translate(302.9,330.35)" font-size="8" text-anchor="start" fill="#000" color="#000" textLength="32.1" lengthAdjust="spacingAndGlyphs" >A<tspan font-size="6.08" dy="1.76">2</tspan><tspan dy="-1.76">​</tspan>B<tspan font-size="6.08" dy="1.76">1</tspan><tspan dy="-1.76">​</tspan>C<tspan font-size="6.08" dy="1.76">2</tspan><tspan dy="-1.76">​</tspan>D<tspan font-size="6.08" dy="1.76">3</tspan><tspan dy="-1.76">​</tspan></text>
<line x1="283" y1="338.9" x2="300.7" y2="338.9" stroke="#b47ce0" stroke-width="1.5" />
<polygon points="291.8,337.21 293.23,338.9 291.8,340.59 290.37,338.9" fill="#b47ce0"/>
<text transform="translate(302.9,341.8)" font-size="8" text-anchor="start" fill="#000" color="#000" textLength="32.1" lengthAdjust="spacingAndGlyphs" >A<tspan font-size="6.08" dy="1.76">2</tspan><tspan dy="-1.76">​</tspan>B<tspan font-size="6.08" dy="1.76">2</tspan><tspan dy="-1.76">​</tspan>C<tspan font-size="6.08" dy="1.76">3</tspan><tspan dy="-1.76">​</tspan>D<tspan font-size="6.08" dy="1.76">1</tspan><tspan dy="-1.76">​</tspan></text>
<line x1="283" y1="350.35" x2="300.7" y2="350.35" stroke="#c99a18" stroke-width="1.5" />
<polygon points="290.31,350.35 292.78,348.92 292.78,351.78" fill="#c99a18"/>
<text transform="translate(302.9,353.25)" font-size="8" text-anchor="start" fill="#000" color="#000" textLength="32.1" lengthAdjust="spacingAndGlyphs" >A<tspan font-size="6.08" dy="1.76">2</tspan><tspan dy="-1.76">​</tspan>B<tspan font-size="6.08" dy="1.76">3</tspan><tspan dy="-1.76">​</tspan>C<tspan font-size="6.08" dy="1.76">1</tspan><tspan dy="-1.76">​</tspan>D<tspan font-size="6.08" dy="1.76">2</tspan><tspan dy="-1.76">​</tspan></text>
<line x1="283" y1="361.8" x2="300.7" y2="361.8" stroke="#35cdd0" stroke-width="1.5" />
<polygon points="293.3,361.8 290.82,360.37 290.82,363.23" fill="#35cdd0"/>
<text transform="translate(302.9,364.7)" font-size="8" text-anchor="start" fill="#000" color="#000" textLength="32.1" lengthAdjust="spacingAndGlyphs" >A<tspan font-size="6.08" dy="1.76">3</tspan><tspan dy="-1.76">​</tspan>B<tspan font-size="6.08" dy="1.76">1</tspan><tspan dy="-1.76">​</tspan>C<tspan font-size="6.08" dy="1.76">3</tspan><tspan dy="-1.76">​</tspan>D<tspan font-size="6.08" dy="1.76">2</tspan><tspan dy="-1.76">​</tspan></text>
<line x1="283" y1="373.25" x2="300.7" y2="373.25" stroke="#7a4a44" stroke-width="1.5" />
<polygon points="293.23,373.25 292.51,374.49 291.09,374.49 290.37,373.25 291.09,372.01 292.51,372.01" fill="#7a4a44"/>
<text transform="translate(302.9,376.15)" font-size="8" text-anchor="start" fill="#000" color="#000" textLength="32.1" lengthAdjust="spacingAndGlyphs" >A<tspan font-size="6.08" dy="1.76">3</tspan><tspan dy="-1.76">​</tspan>B<tspan font-size="6.08" dy="1.76">2</tspan><tspan dy="-1.76">​</tspan>C<tspan font-size="6.08" dy="1.76">1</tspan><tspan dy="-1.76">​</tspan>D<tspan font-size="6.08" dy="1.76">3</tspan><tspan dy="-1.76">​</tspan></text>
<line x1="283" y1="384.7" x2="300.7" y2="384.7" stroke="#a0a030" stroke-width="1.5" />
<polygon points="291.8,382.88 292.26,384.07 293.53,384.14 292.54,384.94 292.87,386.17 291.8,385.48 290.73,386.17 291.06,384.94 290.07,384.14 291.34,384.07" fill="#a0a030"/>
<text transform="translate(302.9,387.6)" font-size="8" text-anchor="start" fill="#000" color="#000" textLength="32.1" lengthAdjust="spacingAndGlyphs" >A<tspan font-size="6.08" dy="1.76">3</tspan><tspan dy="-1.76">​</tspan>B<tspan font-size="6.08" dy="1.76">3</tspan><tspan dy="-1.76">​</tspan>C<tspan font-size="6.08" dy="1.76">2</tspan><tspan dy="-1.76">​</tspan>D<tspan font-size="6.08" dy="1.76">1</tspan><tspan dy="-1.76">​</tspan></text>
<text transform="translate(131.4,258.3)" font-size="9.6" text-anchor="middle" fill="#000" color="#000" textLength="29.5" lengthAdjust="spacingAndGlyphs" >Foundry</text>
<text transform="translate(131.4,269)" font-size="9.6" text-anchor="middle" fill="#000" color="#000" textLength="54.7" lengthAdjust="spacingAndGlyphs" >Heat Treatment</text>
<text transform="translate(193.6,455)" font-size="9.6" text-anchor="middle" fill="#000" color="#000" textLength="49.1" lengthAdjust="spacingAndGlyphs" >content (%)</text>
<text transform="translate(24.5,334.7) rotate(-90)" font-size="10" text-anchor="middle" fill="#000" color="#000" textLength="71.6" lengthAdjust="spacingAndGlyphs" >Elongation Δ(%)</text>
</g>
<text transform="translate(-0.3,238.8)" font-size="19.8" text-anchor="start" fill="#000" color="#000" textLength="20.4" lengthAdjust="spacingAndGlyphs" >(c)</text>
<g clip-path="url(#clipD)">
<line x1="394.4" y1="428.5" x2="394.4" y2="424.9" stroke="#4a4a4a" stroke-width="1.05" />
<line x1="428.4" y1="428.5" x2="428.4" y2="424.9" stroke="#4a4a4a" stroke-width="1.05" />
<line x1="462.4" y1="428.5" x2="462.4" y2="424.9" stroke="#4a4a4a" stroke-width="1.05" />
<line x1="496.4" y1="428.5" x2="496.4" y2="424.9" stroke="#4a4a4a" stroke-width="1.05" />
<line x1="530.4" y1="428.5" x2="530.4" y2="424.9" stroke="#4a4a4a" stroke-width="1.05" />
<line x1="564.4" y1="428.5" x2="564.4" y2="424.9" stroke="#4a4a4a" stroke-width="1.05" />
<line x1="598.4" y1="428.5" x2="598.4" y2="424.9" stroke="#4a4a4a" stroke-width="1.05" />
<line x1="632.4" y1="428.5" x2="632.4" y2="424.9" stroke="#4a4a4a" stroke-width="1.05" />
<line x1="666.4" y1="428.5" x2="666.4" y2="424.9" stroke="#4a4a4a" stroke-width="1.05" />
<line x1="380.9" y1="427.76" x2="384.9" y2="427.76" stroke="#4e4e4e" stroke-width="1" />
<text transform="translate(377.2,430.26)" font-size="7.4" text-anchor="end" fill="#000" color="#000" textLength="9" lengthAdjust="spacingAndGlyphs" >5.2</text>
<line x1="380.9" y1="396.8" x2="384.9" y2="396.8" stroke="#4e4e4e" stroke-width="1" />
<text transform="translate(377.2,399.3)" font-size="7.4" text-anchor="end" fill="#000" color="#000" textLength="9" lengthAdjust="spacingAndGlyphs" >5.4</text>
<line x1="380.9" y1="365.84" x2="384.9" y2="365.84" stroke="#4e4e4e" stroke-width="1" />
<text transform="translate(377.2,368.34)" font-size="7.4" text-anchor="end" fill="#000" color="#000" textLength="9" lengthAdjust="spacingAndGlyphs" >5.6</text>
<line x1="380.9" y1="334.88" x2="384.9" y2="334.88" stroke="#4e4e4e" stroke-width="1" />
<text transform="translate(377.2,337.38)" font-size="7.4" text-anchor="end" fill="#000" color="#000" textLength="9" lengthAdjust="spacingAndGlyphs" >5.8</text>
<line x1="380.9" y1="303.92" x2="384.9" y2="303.92" stroke="#4e4e4e" stroke-width="1" />
<text transform="translate(377.2,306.42)" font-size="7.4" text-anchor="end" fill="#000" color="#000" textLength="9" lengthAdjust="spacingAndGlyphs" >6.0</text>
<line x1="380.9" y1="272.96" x2="384.9" y2="272.96" stroke="#4e4e4e" stroke-width="1" />
<text transform="translate(377.2,275.46)" font-size="7.4" text-anchor="end" fill="#000" color="#000" textLength="9" lengthAdjust="spacingAndGlyphs" >6.2</text>
<line x1="380.9" y1="242" x2="384.9" y2="242" stroke="#4e4e4e" stroke-width="1" />
<text transform="translate(377.2,244.5)" font-size="7.4" text-anchor="end" fill="#000" color="#000" textLength="9" lengthAdjust="spacingAndGlyphs" >6.4</text>
<line x1="380.9" y1="412.28" x2="383.1" y2="412.28" stroke="#4e4e4e" stroke-width="1" />
<line x1="380.9" y1="381.32" x2="383.1" y2="381.32" stroke="#4e4e4e" stroke-width="1" />
<line x1="380.9" y1="350.36" x2="383.1" y2="350.36" stroke="#4e4e4e" stroke-width="1" />
<line x1="380.9" y1="319.4" x2="383.1" y2="319.4" stroke="#4e4e4e" stroke-width="1" />
<line x1="380.9" y1="288.44" x2="383.1" y2="288.44" stroke="#4e4e4e" stroke-width="1" />
<line x1="380.9" y1="257.48" x2="383.1" y2="257.48" stroke="#4e4e4e" stroke-width="1" />
<path d="M380.9,427.9 V241.9 H679.7 V427.9" fill="none" stroke="#4e4e4e" stroke-width="1.3" stroke-linecap="square"/>
<line x1="380.3" y1="428.5" x2="680.3" y2="428.5" stroke="#4a4a4a" stroke-width="1.1"/>
<line x1="394.4" y1="381.6" x2="394.4" y2="389.4" stroke="#222" stroke-width="0.9" />
<line x1="392.4" y1="381.6" x2="396.4" y2="381.6" stroke="#222" stroke-width="0.9" />
<line x1="392.4" y1="389.4" x2="396.4" y2="389.4" stroke="#222" stroke-width="0.9" />
<line x1="428.4" y1="349.3" x2="428.4" y2="355.3" stroke="#222" stroke-width="0.9" />
<line x1="426.4" y1="349.3" x2="430.4" y2="349.3" stroke="#222" stroke-width="0.9" />
<line x1="426.4" y1="355.3" x2="430.4" y2="355.3" stroke="#222" stroke-width="0.9" />
<line x1="462.4" y1="319" x2="462.4" y2="331" stroke="#222" stroke-width="0.9" />
<line x1="460.4" y1="319" x2="464.4" y2="319" stroke="#222" stroke-width="0.9" />
<line x1="460.4" y1="331" x2="464.4" y2="331" stroke="#222" stroke-width="0.9" />
<line x1="496.4" y1="303.5" x2="496.4" y2="317.1" stroke="#222" stroke-width="0.9" />
<line x1="494.4" y1="303.5" x2="498.4" y2="303.5" stroke="#222" stroke-width="0.9" />
<line x1="494.4" y1="317.1" x2="498.4" y2="317.1" stroke="#222" stroke-width="0.9" />
<line x1="530.4" y1="282.3" x2="530.4" y2="288.1" stroke="#222" stroke-width="0.9" />
<line x1="528.4" y1="282.3" x2="532.4" y2="282.3" stroke="#222" stroke-width="0.9" />
<line x1="528.4" y1="288.1" x2="532.4" y2="288.1" stroke="#222" stroke-width="0.9" />
<line x1="564.4" y1="248.3" x2="564.4" y2="257.1" stroke="#222" stroke-width="0.9" />
<line x1="562.4" y1="248.3" x2="566.4" y2="248.3" stroke="#222" stroke-width="0.9" />
<line x1="562.4" y1="257.1" x2="566.4" y2="257.1" stroke="#222" stroke-width="0.9" />
<line x1="598.4" y1="326.9" x2="598.4" y2="333.3" stroke="#222" stroke-width="0.9" />
<line x1="596.4" y1="326.9" x2="600.4" y2="326.9" stroke="#222" stroke-width="0.9" />
<line x1="596.4" y1="333.3" x2="600.4" y2="333.3" stroke="#222" stroke-width="0.9" />
<line x1="632.4" y1="335.8" x2="632.4" y2="343.6" stroke="#222" stroke-width="0.9" />
<line x1="630.4" y1="335.8" x2="634.4" y2="335.8" stroke="#222" stroke-width="0.9" />
<line x1="630.4" y1="343.6" x2="634.4" y2="343.6" stroke="#222" stroke-width="0.9" />
<line x1="666.4" y1="330.3" x2="666.4" y2="342.5" stroke="#222" stroke-width="0.9" />
<line x1="664.4" y1="330.3" x2="668.4" y2="330.3" stroke="#222" stroke-width="0.9" />
<line x1="664.4" y1="342.5" x2="668.4" y2="342.5" stroke="#222" stroke-width="0.9" />
<polyline points="394.4,385.5 428.4,352.3 462.4,325 496.4,310.3 530.4,285.2 564.4,252.7 598.4,330.1 632.4,339.7 666.4,336.4" fill="none" stroke="#111" stroke-width="0.95" stroke-linejoin="round" />
<circle cx="394.4" cy="385.5" r="1.3" fill="#000"/>
<circle cx="428.4" cy="352.3" r="1.3" fill="#000"/>
<circle cx="462.4" cy="325" r="1.3" fill="#000"/>
<circle cx="496.4" cy="310.3" r="1.3" fill="#000"/>
<circle cx="530.4" cy="285.2" r="1.3" fill="#000"/>
<circle cx="564.4" cy="252.7" r="1.3" fill="#000"/>
<circle cx="598.4" cy="330.1" r="1.3" fill="#000"/>
<circle cx="632.4" cy="339.7" r="1.3" fill="#000"/>
<circle cx="666.4" cy="336.4" r="1.3" fill="#000"/>
<line x1="394.4" y1="389.7" x2="394.4" y2="397.5" stroke="#e82020" stroke-width="0.9" />
<line x1="392.4" y1="389.7" x2="396.4" y2="389.7" stroke="#e82020" stroke-width="0.9" />
<line x1="392.4" y1="397.5" x2="396.4" y2="397.5" stroke="#e82020" stroke-width="0.9" />
<line x1="428.4" y1="354.8" x2="428.4" y2="363.8" stroke="#e82020" stroke-width="0.9" />
<line x1="426.4" y1="354.8" x2="430.4" y2="354.8" stroke="#e82020" stroke-width="0.9" />
<line x1="426.4" y1="363.8" x2="430.4" y2="363.8" stroke="#e82020" stroke-width="0.9" />
<line x1="462.4" y1="326" x2="462.4" y2="335.2" stroke="#e82020" stroke-width="0.9" />
<line x1="460.4" y1="326" x2="464.4" y2="326" stroke="#e82020" stroke-width="0.9" />
<line x1="460.4" y1="335.2" x2="464.4" y2="335.2" stroke="#e82020" stroke-width="0.9" />
<line x1="496.4" y1="308.3" x2="496.4" y2="319.3" stroke="#e82020" stroke-width="0.9" />
<line x1="494.4" y1="308.3" x2="498.4" y2="308.3" stroke="#e82020" stroke-width="0.9" />
<line x1="494.4" y1="319.3" x2="498.4" y2="319.3" stroke="#e82020" stroke-width="0.9" />
<line x1="530.4" y1="293.9" x2="530.4" y2="303.1" stroke="#e82020" stroke-width="0.9" />
<line x1="528.4" y1="293.9" x2="532.4" y2="293.9" stroke="#e82020" stroke-width="0.9" />
<line x1="528.4" y1="303.1" x2="532.4" y2="303.1" stroke="#e82020" stroke-width="0.9" />
<line x1="564.4" y1="262.8" x2="564.4" y2="272.6" stroke="#e82020" stroke-width="0.9" />
<line x1="562.4" y1="262.8" x2="566.4" y2="262.8" stroke="#e82020" stroke-width="0.9" />
<line x1="562.4" y1="272.6" x2="566.4" y2="272.6" stroke="#e82020" stroke-width="0.9" />
<line x1="598.4" y1="327.9" x2="598.4" y2="336.1" stroke="#e82020" stroke-width="0.9" />
<line x1="596.4" y1="327.9" x2="600.4" y2="327.9" stroke="#e82020" stroke-width="0.9" />
<line x1="596.4" y1="336.1" x2="600.4" y2="336.1" stroke="#e82020" stroke-width="0.9" />
<line x1="632.4" y1="342.5" x2="632.4" y2="350.9" stroke="#e82020" stroke-width="0.9" />
<line x1="630.4" y1="342.5" x2="634.4" y2="342.5" stroke="#e82020" stroke-width="0.9" />
<line x1="630.4" y1="350.9" x2="634.4" y2="350.9" stroke="#e82020" stroke-width="0.9" />
<line x1="666.4" y1="343" x2="666.4" y2="351.4" stroke="#e82020" stroke-width="0.9" />
<line x1="664.4" y1="343" x2="668.4" y2="343" stroke="#e82020" stroke-width="0.9" />
<line x1="664.4" y1="351.4" x2="668.4" y2="351.4" stroke="#e82020" stroke-width="0.9" />
<polyline points="394.4,393.6 428.4,359.3 462.4,330.6 496.4,313.8 530.4,298.5 564.4,267.7 598.4,332 632.4,346.7 666.4,347.2" fill="none" stroke="#e82020" stroke-width="0.95" stroke-linejoin="round" />
<circle cx="394.4" cy="393.6" r="1.3" fill="#e01010"/>
<circle cx="428.4" cy="359.3" r="1.3" fill="#e01010"/>
<circle cx="462.4" cy="330.6" r="1.3" fill="#e01010"/>
<circle cx="496.4" cy="313.8" r="1.3" fill="#e01010"/>
<circle cx="530.4" cy="298.5" r="1.3" fill="#e01010"/>
<circle cx="564.4" cy="267.7" r="1.3" fill="#e01010"/>
<circle cx="598.4" cy="332" r="1.3" fill="#e01010"/>
<circle cx="632.4" cy="346.7" r="1.3" fill="#e01010"/>
<circle cx="666.4" cy="347.2" r="1.3" fill="#e01010"/>
<line x1="403.1" y1="252.9" x2="419.7" y2="252.9" stroke="#f07070" stroke-width="1.4" />
<circle cx="411.3" cy="252.9" r="1.3" fill="#e01010"/>
<line x1="403.1" y1="264.3" x2="419.7" y2="264.3" stroke="#222" stroke-width="1.2" />
<circle cx="411.3" cy="264.3" r="1.3" fill="#000"/>
<text transform="translate(421.9,255.8)" font-size="7.8" text-anchor="start" fill="#000" color="#000" textLength="13.5" lengthAdjust="spacingAndGlyphs" >2%:</text>
<text transform="translate(440.7,255.8)" font-size="7.8" text-anchor="start" fill="#000" color="#000" textLength="31.2" lengthAdjust="spacingAndGlyphs" >BN<tspan font-size="5.46" dy="1.95">1</tspan><tspan dy="-1.95">​</tspan> (nm)</text>
<text transform="translate(421.9,267.2)" font-size="7.8" text-anchor="start" fill="#000" color="#000" textLength="13.5" lengthAdjust="spacingAndGlyphs" >2%:</text>
<text transform="translate(440.7,267.2)" font-size="7.8" text-anchor="start" fill="#000" color="#000" textLength="31.2" lengthAdjust="spacingAndGlyphs" >BN<tspan font-size="5.46" dy="1.95">2</tspan><tspan dy="-1.95">​</tspan> (μm)</text>
<text transform="translate(393.8,441) rotate(-20)" font-size="9.8" text-anchor="middle" fill="#000" color="#000" textLength="35.5" lengthAdjust="spacingAndGlyphs" >A<tspan font-size="7.06" dy="2.45">1</tspan><tspan dy="-2.45">​</tspan>B<tspan font-size="7.06" dy="2.45">1</tspan><tspan dy="-2.45">​</tspan>C<tspan font-size="7.06" dy="2.45">1</tspan><tspan dy="-2.45">​</tspan>D<tspan font-size="7.06" dy="2.45">1</tspan><tspan dy="-2.45">​</tspan></text>
<text transform="translate(427.8,441) rotate(-20)" font-size="9.8" text-anchor="middle" fill="#000" color="#000" textLength="35.5" lengthAdjust="spacingAndGlyphs" >A<tspan font-size="7.06" dy="2.45">1</tspan><tspan dy="-2.45">​</tspan>B<tspan font-size="7.06" dy="2.45">2</tspan><tspan dy="-2.45">​</tspan>C<tspan font-size="7.06" dy="2.45">2</tspan><tspan dy="-2.45">​</tspan>D<tspan font-size="7.06" dy="2.45">2</tspan><tspan dy="-2.45">​</tspan></text>
<text transform="translate(461.8,441) rotate(-20)" font-size="9.8" text-anchor="middle" fill="#000" color="#000" textLength="35.5" lengthAdjust="spacingAndGlyphs" >A<tspan font-size="7.06" dy="2.45">1</tspan><tspan dy="-2.45">​</tspan>B<tspan font-size="7.06" dy="2.45">3</tspan><tspan dy="-2.45">​</tspan>C<tspan font-size="7.06" dy="2.45">3</tspan><tspan dy="-2.45">​</tspan>D<tspan font-size="7.06" dy="2.45">3</tspan><tspan dy="-2.45">​</tspan></text>
<text transform="translate(495.8,441) rotate(-20)" font-size="9.8" text-anchor="middle" fill="#000" color="#000" textLength="35.5" lengthAdjust="spacingAndGlyphs" >A<tspan font-size="7.06" dy="2.45">2</tspan><tspan dy="-2.45">​</tspan>B<tspan font-size="7.06" dy="2.45">1</tspan><tspan dy="-2.45">​</tspan>C<tspan font-size="7.06" dy="2.45">2</tspan><tspan dy="-2.45">​</tspan>D<tspan font-size="7.06" dy="2.45">3</tspan><tspan dy="-2.45">​</tspan></text>
<text transform="translate(529.8,441) rotate(-20)" font-size="9.8" text-anchor="middle" fill="#000" color="#000" textLength="35.5" lengthAdjust="spacingAndGlyphs" >A<tspan font-size="7.06" dy="2.45">2</tspan><tspan dy="-2.45">​</tspan>B<tspan font-size="7.06" dy="2.45">2</tspan><tspan dy="-2.45">​</tspan>C<tspan font-size="7.06" dy="2.45">3</tspan><tspan dy="-2.45">​</tspan>D<tspan font-size="7.06" dy="2.45">1</tspan><tspan dy="-2.45">​</tspan></text>
<text transform="translate(563.8,441) rotate(-20)" font-size="9.8" text-anchor="middle" fill="#000" color="#000" textLength="35.5" lengthAdjust="spacingAndGlyphs" >A<tspan font-size="7.06" dy="2.45">2</tspan><tspan dy="-2.45">​</tspan>B<tspan font-size="7.06" dy="2.45">3</tspan><tspan dy="-2.45">​</tspan>C<tspan font-size="7.06" dy="2.45">1</tspan><tspan dy="-2.45">​</tspan>D<tspan font-size="7.06" dy="2.45">2</tspan><tspan dy="-2.45">​</tspan></text>
<text transform="translate(597.8,441) rotate(-20)" font-size="9.8" text-anchor="middle" fill="#000" color="#000" textLength="35.5" lengthAdjust="spacingAndGlyphs" >A<tspan font-size="7.06" dy="2.45">3</tspan><tspan dy="-2.45">​</tspan>B<tspan font-size="7.06" dy="2.45">1</tspan><tspan dy="-2.45">​</tspan>C<tspan font-size="7.06" dy="2.45">3</tspan><tspan dy="-2.45">​</tspan>D<tspan font-size="7.06" dy="2.45">2</tspan><tspan dy="-2.45">​</tspan></text>
<text transform="translate(631.8,441) rotate(-20)" font-size="9.8" text-anchor="middle" fill="#000" color="#000" textLength="35.5" lengthAdjust="spacingAndGlyphs" >A<tspan font-size="7.06" dy="2.45">3</tspan><tspan dy="-2.45">​</tspan>B<tspan font-size="7.06" dy="2.45">2</tspan><tspan dy="-2.45">​</tspan>C<tspan font-size="7.06" dy="2.45">1</tspan><tspan dy="-2.45">​</tspan>D<tspan font-size="7.06" dy="2.45">3</tspan><tspan dy="-2.45">​</tspan></text>
<text transform="translate(665.8,441) rotate(-20)" font-size="9.8" text-anchor="middle" fill="#000" color="#000" textLength="35.5" lengthAdjust="spacingAndGlyphs" >A<tspan font-size="7.06" dy="2.45">3</tspan><tspan dy="-2.45">​</tspan>B<tspan font-size="7.06" dy="2.45">3</tspan><tspan dy="-2.45">​</tspan>C<tspan font-size="7.06" dy="2.45">2</tspan><tspan dy="-2.45">​</tspan>D<tspan font-size="7.06" dy="2.45">1</tspan><tspan dy="-2.45">​</tspan></text>
<text transform="translate(530.2,457.1)" font-size="9.6" text-anchor="middle" fill="#000" color="#000" textLength="63.1" lengthAdjust="spacingAndGlyphs" >Heat Treatment</text>
<text transform="translate(365,334.5) rotate(-90)" font-size="9.6" text-anchor="middle" fill="#000" color="#000" textLength="71.5" lengthAdjust="spacingAndGlyphs" >Elongation Δ(%)</text>
</g>
<text transform="translate(344.2,239)" font-size="19.8" text-anchor="start" fill="#000" color="#000" textLength="21.5" lengthAdjust="spacingAndGlyphs" >(d)</text>
</svg>
</body></html>
